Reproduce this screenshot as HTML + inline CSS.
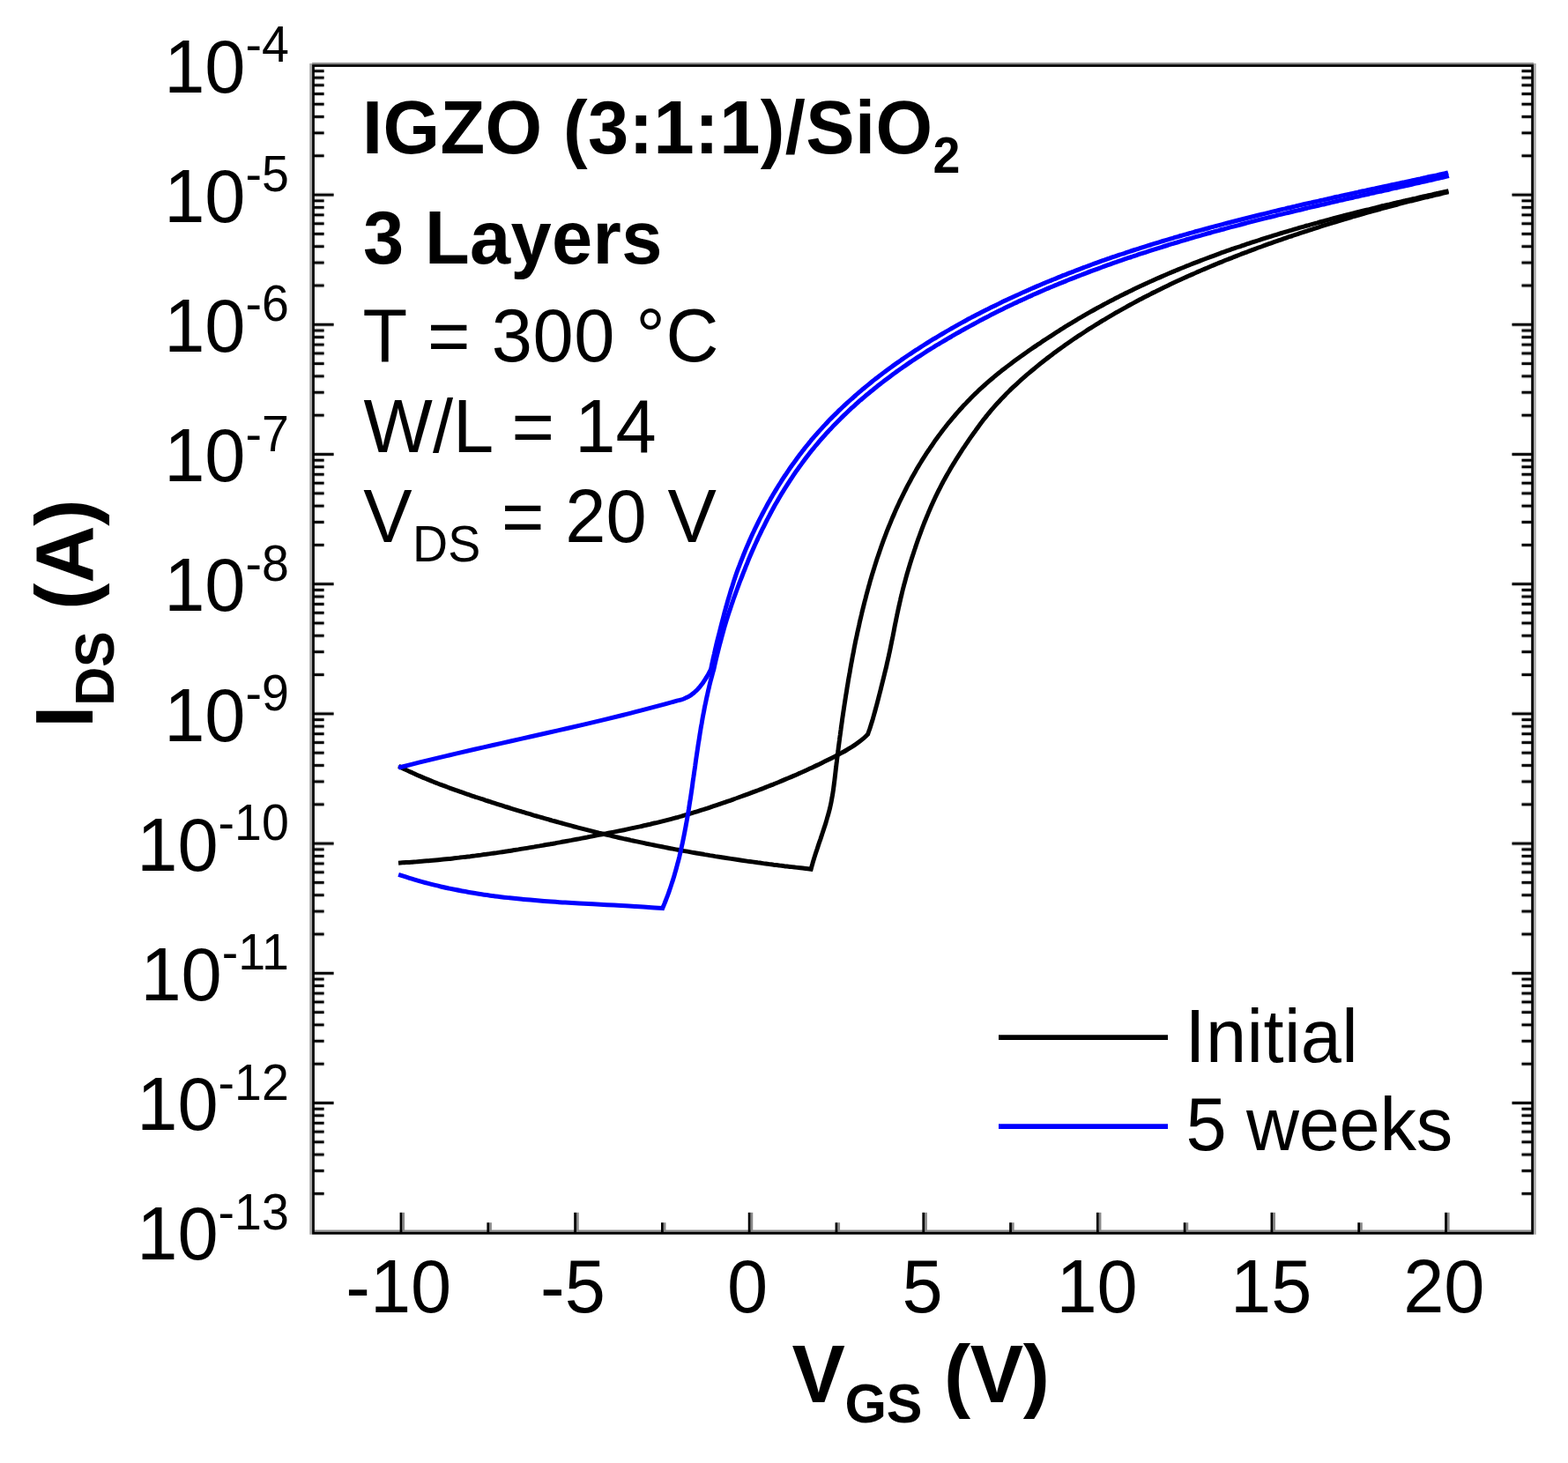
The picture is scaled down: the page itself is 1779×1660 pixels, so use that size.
<!DOCTYPE html>
<html lang="en"><head><meta charset="utf-8"><title>IGZO TFT transfer curves</title>
<style>html,body{margin:0;padding:0;background:#fff}body{width:1779px;height:1660px;overflow:hidden}svg{display:block}text{font-family:"Liberation Sans",sans-serif;fill:#000}.b{font-weight:bold}</style></head><body>
<svg width="1779" height="1660" viewBox="0 0 1779 1660">
<rect width="1779" height="1660" fill="#fff"/>
<g stroke="#a8a8a8" stroke-width="2.9" fill="none">
<line x1="352.7" y1="72.1" x2="352.7" y2="1400.7"/>
<line x1="1741.3" y1="72.1" x2="1741.3" y2="1400.7"/>
</g>
<g stroke="#8c8c8c" stroke-width="2.4" fill="none">
<line x1="354.1" y1="72.1" x2="1740.0" y2="72.1"/>
<line x1="356.9" y1="1396.7" x2="1737.2" y2="1396.7"/>
</g>
<g stroke="#cdcdcd" stroke-width="5" fill="none">
<line x1="356.9" y1="1354.39" x2="367.6" y2="1354.39"/>
<line x1="1737.2" y1="1354.39" x2="1726.5" y2="1354.39"/>
<line x1="356.9" y1="1328.47" x2="367.6" y2="1328.47"/>
<line x1="1737.2" y1="1328.47" x2="1726.5" y2="1328.47"/>
<line x1="356.9" y1="1310.08" x2="367.6" y2="1310.08"/>
<line x1="1737.2" y1="1310.08" x2="1726.5" y2="1310.08"/>
<line x1="356.9" y1="1295.81" x2="367.6" y2="1295.81"/>
<line x1="1737.2" y1="1295.81" x2="1726.5" y2="1295.81"/>
<line x1="356.9" y1="1284.16" x2="367.6" y2="1284.16"/>
<line x1="1737.2" y1="1284.16" x2="1726.5" y2="1284.16"/>
<line x1="356.9" y1="1274.30" x2="367.6" y2="1274.30"/>
<line x1="1737.2" y1="1274.30" x2="1726.5" y2="1274.30"/>
<line x1="356.9" y1="1265.77" x2="367.6" y2="1265.77"/>
<line x1="1737.2" y1="1265.77" x2="1726.5" y2="1265.77"/>
<line x1="356.9" y1="1258.24" x2="367.6" y2="1258.24"/>
<line x1="1737.2" y1="1258.24" x2="1726.5" y2="1258.24"/>
<line x1="356.9" y1="1251.50" x2="378.6" y2="1251.50"/>
<line x1="1737.2" y1="1251.50" x2="1715.5" y2="1251.50"/>
<line x1="356.9" y1="1207.19" x2="367.6" y2="1207.19"/>
<line x1="1737.2" y1="1207.19" x2="1726.5" y2="1207.19"/>
<line x1="356.9" y1="1181.27" x2="367.6" y2="1181.27"/>
<line x1="1737.2" y1="1181.27" x2="1726.5" y2="1181.27"/>
<line x1="356.9" y1="1162.88" x2="367.6" y2="1162.88"/>
<line x1="1737.2" y1="1162.88" x2="1726.5" y2="1162.88"/>
<line x1="356.9" y1="1148.61" x2="367.6" y2="1148.61"/>
<line x1="1737.2" y1="1148.61" x2="1726.5" y2="1148.61"/>
<line x1="356.9" y1="1136.96" x2="367.6" y2="1136.96"/>
<line x1="1737.2" y1="1136.96" x2="1726.5" y2="1136.96"/>
<line x1="356.9" y1="1127.10" x2="367.6" y2="1127.10"/>
<line x1="1737.2" y1="1127.10" x2="1726.5" y2="1127.10"/>
<line x1="356.9" y1="1118.57" x2="367.6" y2="1118.57"/>
<line x1="1737.2" y1="1118.57" x2="1726.5" y2="1118.57"/>
<line x1="356.9" y1="1111.04" x2="367.6" y2="1111.04"/>
<line x1="1737.2" y1="1111.04" x2="1726.5" y2="1111.04"/>
<line x1="356.9" y1="1104.30" x2="378.6" y2="1104.30"/>
<line x1="1737.2" y1="1104.30" x2="1715.5" y2="1104.30"/>
<line x1="356.9" y1="1059.99" x2="367.6" y2="1059.99"/>
<line x1="1737.2" y1="1059.99" x2="1726.5" y2="1059.99"/>
<line x1="356.9" y1="1034.07" x2="367.6" y2="1034.07"/>
<line x1="1737.2" y1="1034.07" x2="1726.5" y2="1034.07"/>
<line x1="356.9" y1="1015.68" x2="367.6" y2="1015.68"/>
<line x1="1737.2" y1="1015.68" x2="1726.5" y2="1015.68"/>
<line x1="356.9" y1="1001.41" x2="367.6" y2="1001.41"/>
<line x1="1737.2" y1="1001.41" x2="1726.5" y2="1001.41"/>
<line x1="356.9" y1="989.76" x2="367.6" y2="989.76"/>
<line x1="1737.2" y1="989.76" x2="1726.5" y2="989.76"/>
<line x1="356.9" y1="979.90" x2="367.6" y2="979.90"/>
<line x1="1737.2" y1="979.90" x2="1726.5" y2="979.90"/>
<line x1="356.9" y1="971.37" x2="367.6" y2="971.37"/>
<line x1="1737.2" y1="971.37" x2="1726.5" y2="971.37"/>
<line x1="356.9" y1="963.84" x2="367.6" y2="963.84"/>
<line x1="1737.2" y1="963.84" x2="1726.5" y2="963.84"/>
<line x1="356.9" y1="957.10" x2="378.6" y2="957.10"/>
<line x1="1737.2" y1="957.10" x2="1715.5" y2="957.10"/>
<line x1="356.9" y1="912.79" x2="367.6" y2="912.79"/>
<line x1="1737.2" y1="912.79" x2="1726.5" y2="912.79"/>
<line x1="356.9" y1="886.87" x2="367.6" y2="886.87"/>
<line x1="1737.2" y1="886.87" x2="1726.5" y2="886.87"/>
<line x1="356.9" y1="868.48" x2="367.6" y2="868.48"/>
<line x1="1737.2" y1="868.48" x2="1726.5" y2="868.48"/>
<line x1="356.9" y1="854.21" x2="367.6" y2="854.21"/>
<line x1="1737.2" y1="854.21" x2="1726.5" y2="854.21"/>
<line x1="356.9" y1="842.56" x2="367.6" y2="842.56"/>
<line x1="1737.2" y1="842.56" x2="1726.5" y2="842.56"/>
<line x1="356.9" y1="832.70" x2="367.6" y2="832.70"/>
<line x1="1737.2" y1="832.70" x2="1726.5" y2="832.70"/>
<line x1="356.9" y1="824.17" x2="367.6" y2="824.17"/>
<line x1="1737.2" y1="824.17" x2="1726.5" y2="824.17"/>
<line x1="356.9" y1="816.64" x2="367.6" y2="816.64"/>
<line x1="1737.2" y1="816.64" x2="1726.5" y2="816.64"/>
<line x1="356.9" y1="809.90" x2="378.6" y2="809.90"/>
<line x1="1737.2" y1="809.90" x2="1715.5" y2="809.90"/>
<line x1="356.9" y1="765.59" x2="367.6" y2="765.59"/>
<line x1="1737.2" y1="765.59" x2="1726.5" y2="765.59"/>
<line x1="356.9" y1="739.67" x2="367.6" y2="739.67"/>
<line x1="1737.2" y1="739.67" x2="1726.5" y2="739.67"/>
<line x1="356.9" y1="721.28" x2="367.6" y2="721.28"/>
<line x1="1737.2" y1="721.28" x2="1726.5" y2="721.28"/>
<line x1="356.9" y1="707.01" x2="367.6" y2="707.01"/>
<line x1="1737.2" y1="707.01" x2="1726.5" y2="707.01"/>
<line x1="356.9" y1="695.36" x2="367.6" y2="695.36"/>
<line x1="1737.2" y1="695.36" x2="1726.5" y2="695.36"/>
<line x1="356.9" y1="685.50" x2="367.6" y2="685.50"/>
<line x1="1737.2" y1="685.50" x2="1726.5" y2="685.50"/>
<line x1="356.9" y1="676.97" x2="367.6" y2="676.97"/>
<line x1="1737.2" y1="676.97" x2="1726.5" y2="676.97"/>
<line x1="356.9" y1="669.44" x2="367.6" y2="669.44"/>
<line x1="1737.2" y1="669.44" x2="1726.5" y2="669.44"/>
<line x1="356.9" y1="662.70" x2="378.6" y2="662.70"/>
<line x1="1737.2" y1="662.70" x2="1715.5" y2="662.70"/>
<line x1="356.9" y1="618.39" x2="367.6" y2="618.39"/>
<line x1="1737.2" y1="618.39" x2="1726.5" y2="618.39"/>
<line x1="356.9" y1="592.47" x2="367.6" y2="592.47"/>
<line x1="1737.2" y1="592.47" x2="1726.5" y2="592.47"/>
<line x1="356.9" y1="574.08" x2="367.6" y2="574.08"/>
<line x1="1737.2" y1="574.08" x2="1726.5" y2="574.08"/>
<line x1="356.9" y1="559.81" x2="367.6" y2="559.81"/>
<line x1="1737.2" y1="559.81" x2="1726.5" y2="559.81"/>
<line x1="356.9" y1="548.16" x2="367.6" y2="548.16"/>
<line x1="1737.2" y1="548.16" x2="1726.5" y2="548.16"/>
<line x1="356.9" y1="538.30" x2="367.6" y2="538.30"/>
<line x1="1737.2" y1="538.30" x2="1726.5" y2="538.30"/>
<line x1="356.9" y1="529.77" x2="367.6" y2="529.77"/>
<line x1="1737.2" y1="529.77" x2="1726.5" y2="529.77"/>
<line x1="356.9" y1="522.24" x2="367.6" y2="522.24"/>
<line x1="1737.2" y1="522.24" x2="1726.5" y2="522.24"/>
<line x1="356.9" y1="515.50" x2="378.6" y2="515.50"/>
<line x1="1737.2" y1="515.50" x2="1715.5" y2="515.50"/>
<line x1="356.9" y1="471.19" x2="367.6" y2="471.19"/>
<line x1="1737.2" y1="471.19" x2="1726.5" y2="471.19"/>
<line x1="356.9" y1="445.27" x2="367.6" y2="445.27"/>
<line x1="1737.2" y1="445.27" x2="1726.5" y2="445.27"/>
<line x1="356.9" y1="426.88" x2="367.6" y2="426.88"/>
<line x1="1737.2" y1="426.88" x2="1726.5" y2="426.88"/>
<line x1="356.9" y1="412.61" x2="367.6" y2="412.61"/>
<line x1="1737.2" y1="412.61" x2="1726.5" y2="412.61"/>
<line x1="356.9" y1="400.96" x2="367.6" y2="400.96"/>
<line x1="1737.2" y1="400.96" x2="1726.5" y2="400.96"/>
<line x1="356.9" y1="391.10" x2="367.6" y2="391.10"/>
<line x1="1737.2" y1="391.10" x2="1726.5" y2="391.10"/>
<line x1="356.9" y1="382.57" x2="367.6" y2="382.57"/>
<line x1="1737.2" y1="382.57" x2="1726.5" y2="382.57"/>
<line x1="356.9" y1="375.04" x2="367.6" y2="375.04"/>
<line x1="1737.2" y1="375.04" x2="1726.5" y2="375.04"/>
<line x1="356.9" y1="368.30" x2="378.6" y2="368.30"/>
<line x1="1737.2" y1="368.30" x2="1715.5" y2="368.30"/>
<line x1="356.9" y1="323.99" x2="367.6" y2="323.99"/>
<line x1="1737.2" y1="323.99" x2="1726.5" y2="323.99"/>
<line x1="356.9" y1="298.07" x2="367.6" y2="298.07"/>
<line x1="1737.2" y1="298.07" x2="1726.5" y2="298.07"/>
<line x1="356.9" y1="279.68" x2="367.6" y2="279.68"/>
<line x1="1737.2" y1="279.68" x2="1726.5" y2="279.68"/>
<line x1="356.9" y1="265.41" x2="367.6" y2="265.41"/>
<line x1="1737.2" y1="265.41" x2="1726.5" y2="265.41"/>
<line x1="356.9" y1="253.76" x2="367.6" y2="253.76"/>
<line x1="1737.2" y1="253.76" x2="1726.5" y2="253.76"/>
<line x1="356.9" y1="243.90" x2="367.6" y2="243.90"/>
<line x1="1737.2" y1="243.90" x2="1726.5" y2="243.90"/>
<line x1="356.9" y1="235.37" x2="367.6" y2="235.37"/>
<line x1="1737.2" y1="235.37" x2="1726.5" y2="235.37"/>
<line x1="356.9" y1="227.84" x2="367.6" y2="227.84"/>
<line x1="1737.2" y1="227.84" x2="1726.5" y2="227.84"/>
<line x1="356.9" y1="221.10" x2="378.6" y2="221.10"/>
<line x1="1737.2" y1="221.10" x2="1715.5" y2="221.10"/>
<line x1="356.9" y1="176.79" x2="367.6" y2="176.79"/>
<line x1="1737.2" y1="176.79" x2="1726.5" y2="176.79"/>
<line x1="356.9" y1="150.87" x2="367.6" y2="150.87"/>
<line x1="1737.2" y1="150.87" x2="1726.5" y2="150.87"/>
<line x1="356.9" y1="132.48" x2="367.6" y2="132.48"/>
<line x1="1737.2" y1="132.48" x2="1726.5" y2="132.48"/>
<line x1="356.9" y1="118.21" x2="367.6" y2="118.21"/>
<line x1="1737.2" y1="118.21" x2="1726.5" y2="118.21"/>
<line x1="356.9" y1="106.56" x2="367.6" y2="106.56"/>
<line x1="1737.2" y1="106.56" x2="1726.5" y2="106.56"/>
<line x1="356.9" y1="96.70" x2="367.6" y2="96.70"/>
<line x1="1737.2" y1="96.70" x2="1726.5" y2="96.70"/>
<line x1="356.9" y1="88.17" x2="367.6" y2="88.17"/>
<line x1="1737.2" y1="88.17" x2="1726.5" y2="88.17"/>
<line x1="356.9" y1="80.64" x2="367.6" y2="80.64"/>
<line x1="1737.2" y1="80.64" x2="1726.5" y2="80.64"/>
</g>
<g stroke="#8a8a8a" stroke-width="2.7" fill="none">
<line x1="457.74" y1="1397.9" x2="457.74" y2="1375.8"/>
<line x1="556.54" y1="1397.9" x2="556.54" y2="1387.2"/>
<line x1="655.33" y1="1397.9" x2="655.33" y2="1375.8"/>
<line x1="754.12" y1="1397.9" x2="754.12" y2="1387.2"/>
<line x1="852.91" y1="1397.9" x2="852.91" y2="1375.8"/>
<line x1="951.71" y1="1397.9" x2="951.71" y2="1387.2"/>
<line x1="1050.50" y1="1397.9" x2="1050.50" y2="1375.8"/>
<line x1="1149.29" y1="1397.9" x2="1149.29" y2="1387.2"/>
<line x1="1248.09" y1="1397.9" x2="1248.09" y2="1375.8"/>
<line x1="1346.88" y1="1397.9" x2="1346.88" y2="1387.2"/>
<line x1="1445.67" y1="1397.9" x2="1445.67" y2="1375.8"/>
<line x1="1544.46" y1="1397.9" x2="1544.46" y2="1387.2"/>
<line x1="1643.26" y1="1397.9" x2="1643.26" y2="1375.8"/>
</g>
<g stroke="#000" stroke-width="2.8" fill="none">
<line x1="355.5" y1="1354.39" x2="367.6" y2="1354.39"/>
<line x1="1738.6" y1="1354.39" x2="1726.5" y2="1354.39"/>
<line x1="355.5" y1="1328.47" x2="367.6" y2="1328.47"/>
<line x1="1738.6" y1="1328.47" x2="1726.5" y2="1328.47"/>
<line x1="355.5" y1="1310.08" x2="367.6" y2="1310.08"/>
<line x1="1738.6" y1="1310.08" x2="1726.5" y2="1310.08"/>
<line x1="355.5" y1="1295.81" x2="367.6" y2="1295.81"/>
<line x1="1738.6" y1="1295.81" x2="1726.5" y2="1295.81"/>
<line x1="355.5" y1="1284.16" x2="367.6" y2="1284.16"/>
<line x1="1738.6" y1="1284.16" x2="1726.5" y2="1284.16"/>
<line x1="355.5" y1="1274.30" x2="367.6" y2="1274.30"/>
<line x1="1738.6" y1="1274.30" x2="1726.5" y2="1274.30"/>
<line x1="355.5" y1="1265.77" x2="367.6" y2="1265.77"/>
<line x1="1738.6" y1="1265.77" x2="1726.5" y2="1265.77"/>
<line x1="355.5" y1="1258.24" x2="367.6" y2="1258.24"/>
<line x1="1738.6" y1="1258.24" x2="1726.5" y2="1258.24"/>
<line x1="355.5" y1="1251.50" x2="378.6" y2="1251.50"/>
<line x1="1738.6" y1="1251.50" x2="1715.5" y2="1251.50"/>
<line x1="355.5" y1="1207.19" x2="367.6" y2="1207.19"/>
<line x1="1738.6" y1="1207.19" x2="1726.5" y2="1207.19"/>
<line x1="355.5" y1="1181.27" x2="367.6" y2="1181.27"/>
<line x1="1738.6" y1="1181.27" x2="1726.5" y2="1181.27"/>
<line x1="355.5" y1="1162.88" x2="367.6" y2="1162.88"/>
<line x1="1738.6" y1="1162.88" x2="1726.5" y2="1162.88"/>
<line x1="355.5" y1="1148.61" x2="367.6" y2="1148.61"/>
<line x1="1738.6" y1="1148.61" x2="1726.5" y2="1148.61"/>
<line x1="355.5" y1="1136.96" x2="367.6" y2="1136.96"/>
<line x1="1738.6" y1="1136.96" x2="1726.5" y2="1136.96"/>
<line x1="355.5" y1="1127.10" x2="367.6" y2="1127.10"/>
<line x1="1738.6" y1="1127.10" x2="1726.5" y2="1127.10"/>
<line x1="355.5" y1="1118.57" x2="367.6" y2="1118.57"/>
<line x1="1738.6" y1="1118.57" x2="1726.5" y2="1118.57"/>
<line x1="355.5" y1="1111.04" x2="367.6" y2="1111.04"/>
<line x1="1738.6" y1="1111.04" x2="1726.5" y2="1111.04"/>
<line x1="355.5" y1="1104.30" x2="378.6" y2="1104.30"/>
<line x1="1738.6" y1="1104.30" x2="1715.5" y2="1104.30"/>
<line x1="355.5" y1="1059.99" x2="367.6" y2="1059.99"/>
<line x1="1738.6" y1="1059.99" x2="1726.5" y2="1059.99"/>
<line x1="355.5" y1="1034.07" x2="367.6" y2="1034.07"/>
<line x1="1738.6" y1="1034.07" x2="1726.5" y2="1034.07"/>
<line x1="355.5" y1="1015.68" x2="367.6" y2="1015.68"/>
<line x1="1738.6" y1="1015.68" x2="1726.5" y2="1015.68"/>
<line x1="355.5" y1="1001.41" x2="367.6" y2="1001.41"/>
<line x1="1738.6" y1="1001.41" x2="1726.5" y2="1001.41"/>
<line x1="355.5" y1="989.76" x2="367.6" y2="989.76"/>
<line x1="1738.6" y1="989.76" x2="1726.5" y2="989.76"/>
<line x1="355.5" y1="979.90" x2="367.6" y2="979.90"/>
<line x1="1738.6" y1="979.90" x2="1726.5" y2="979.90"/>
<line x1="355.5" y1="971.37" x2="367.6" y2="971.37"/>
<line x1="1738.6" y1="971.37" x2="1726.5" y2="971.37"/>
<line x1="355.5" y1="963.84" x2="367.6" y2="963.84"/>
<line x1="1738.6" y1="963.84" x2="1726.5" y2="963.84"/>
<line x1="355.5" y1="957.10" x2="378.6" y2="957.10"/>
<line x1="1738.6" y1="957.10" x2="1715.5" y2="957.10"/>
<line x1="355.5" y1="912.79" x2="367.6" y2="912.79"/>
<line x1="1738.6" y1="912.79" x2="1726.5" y2="912.79"/>
<line x1="355.5" y1="886.87" x2="367.6" y2="886.87"/>
<line x1="1738.6" y1="886.87" x2="1726.5" y2="886.87"/>
<line x1="355.5" y1="868.48" x2="367.6" y2="868.48"/>
<line x1="1738.6" y1="868.48" x2="1726.5" y2="868.48"/>
<line x1="355.5" y1="854.21" x2="367.6" y2="854.21"/>
<line x1="1738.6" y1="854.21" x2="1726.5" y2="854.21"/>
<line x1="355.5" y1="842.56" x2="367.6" y2="842.56"/>
<line x1="1738.6" y1="842.56" x2="1726.5" y2="842.56"/>
<line x1="355.5" y1="832.70" x2="367.6" y2="832.70"/>
<line x1="1738.6" y1="832.70" x2="1726.5" y2="832.70"/>
<line x1="355.5" y1="824.17" x2="367.6" y2="824.17"/>
<line x1="1738.6" y1="824.17" x2="1726.5" y2="824.17"/>
<line x1="355.5" y1="816.64" x2="367.6" y2="816.64"/>
<line x1="1738.6" y1="816.64" x2="1726.5" y2="816.64"/>
<line x1="355.5" y1="809.90" x2="378.6" y2="809.90"/>
<line x1="1738.6" y1="809.90" x2="1715.5" y2="809.90"/>
<line x1="355.5" y1="765.59" x2="367.6" y2="765.59"/>
<line x1="1738.6" y1="765.59" x2="1726.5" y2="765.59"/>
<line x1="355.5" y1="739.67" x2="367.6" y2="739.67"/>
<line x1="1738.6" y1="739.67" x2="1726.5" y2="739.67"/>
<line x1="355.5" y1="721.28" x2="367.6" y2="721.28"/>
<line x1="1738.6" y1="721.28" x2="1726.5" y2="721.28"/>
<line x1="355.5" y1="707.01" x2="367.6" y2="707.01"/>
<line x1="1738.6" y1="707.01" x2="1726.5" y2="707.01"/>
<line x1="355.5" y1="695.36" x2="367.6" y2="695.36"/>
<line x1="1738.6" y1="695.36" x2="1726.5" y2="695.36"/>
<line x1="355.5" y1="685.50" x2="367.6" y2="685.50"/>
<line x1="1738.6" y1="685.50" x2="1726.5" y2="685.50"/>
<line x1="355.5" y1="676.97" x2="367.6" y2="676.97"/>
<line x1="1738.6" y1="676.97" x2="1726.5" y2="676.97"/>
<line x1="355.5" y1="669.44" x2="367.6" y2="669.44"/>
<line x1="1738.6" y1="669.44" x2="1726.5" y2="669.44"/>
<line x1="355.5" y1="662.70" x2="378.6" y2="662.70"/>
<line x1="1738.6" y1="662.70" x2="1715.5" y2="662.70"/>
<line x1="355.5" y1="618.39" x2="367.6" y2="618.39"/>
<line x1="1738.6" y1="618.39" x2="1726.5" y2="618.39"/>
<line x1="355.5" y1="592.47" x2="367.6" y2="592.47"/>
<line x1="1738.6" y1="592.47" x2="1726.5" y2="592.47"/>
<line x1="355.5" y1="574.08" x2="367.6" y2="574.08"/>
<line x1="1738.6" y1="574.08" x2="1726.5" y2="574.08"/>
<line x1="355.5" y1="559.81" x2="367.6" y2="559.81"/>
<line x1="1738.6" y1="559.81" x2="1726.5" y2="559.81"/>
<line x1="355.5" y1="548.16" x2="367.6" y2="548.16"/>
<line x1="1738.6" y1="548.16" x2="1726.5" y2="548.16"/>
<line x1="355.5" y1="538.30" x2="367.6" y2="538.30"/>
<line x1="1738.6" y1="538.30" x2="1726.5" y2="538.30"/>
<line x1="355.5" y1="529.77" x2="367.6" y2="529.77"/>
<line x1="1738.6" y1="529.77" x2="1726.5" y2="529.77"/>
<line x1="355.5" y1="522.24" x2="367.6" y2="522.24"/>
<line x1="1738.6" y1="522.24" x2="1726.5" y2="522.24"/>
<line x1="355.5" y1="515.50" x2="378.6" y2="515.50"/>
<line x1="1738.6" y1="515.50" x2="1715.5" y2="515.50"/>
<line x1="355.5" y1="471.19" x2="367.6" y2="471.19"/>
<line x1="1738.6" y1="471.19" x2="1726.5" y2="471.19"/>
<line x1="355.5" y1="445.27" x2="367.6" y2="445.27"/>
<line x1="1738.6" y1="445.27" x2="1726.5" y2="445.27"/>
<line x1="355.5" y1="426.88" x2="367.6" y2="426.88"/>
<line x1="1738.6" y1="426.88" x2="1726.5" y2="426.88"/>
<line x1="355.5" y1="412.61" x2="367.6" y2="412.61"/>
<line x1="1738.6" y1="412.61" x2="1726.5" y2="412.61"/>
<line x1="355.5" y1="400.96" x2="367.6" y2="400.96"/>
<line x1="1738.6" y1="400.96" x2="1726.5" y2="400.96"/>
<line x1="355.5" y1="391.10" x2="367.6" y2="391.10"/>
<line x1="1738.6" y1="391.10" x2="1726.5" y2="391.10"/>
<line x1="355.5" y1="382.57" x2="367.6" y2="382.57"/>
<line x1="1738.6" y1="382.57" x2="1726.5" y2="382.57"/>
<line x1="355.5" y1="375.04" x2="367.6" y2="375.04"/>
<line x1="1738.6" y1="375.04" x2="1726.5" y2="375.04"/>
<line x1="355.5" y1="368.30" x2="378.6" y2="368.30"/>
<line x1="1738.6" y1="368.30" x2="1715.5" y2="368.30"/>
<line x1="355.5" y1="323.99" x2="367.6" y2="323.99"/>
<line x1="1738.6" y1="323.99" x2="1726.5" y2="323.99"/>
<line x1="355.5" y1="298.07" x2="367.6" y2="298.07"/>
<line x1="1738.6" y1="298.07" x2="1726.5" y2="298.07"/>
<line x1="355.5" y1="279.68" x2="367.6" y2="279.68"/>
<line x1="1738.6" y1="279.68" x2="1726.5" y2="279.68"/>
<line x1="355.5" y1="265.41" x2="367.6" y2="265.41"/>
<line x1="1738.6" y1="265.41" x2="1726.5" y2="265.41"/>
<line x1="355.5" y1="253.76" x2="367.6" y2="253.76"/>
<line x1="1738.6" y1="253.76" x2="1726.5" y2="253.76"/>
<line x1="355.5" y1="243.90" x2="367.6" y2="243.90"/>
<line x1="1738.6" y1="243.90" x2="1726.5" y2="243.90"/>
<line x1="355.5" y1="235.37" x2="367.6" y2="235.37"/>
<line x1="1738.6" y1="235.37" x2="1726.5" y2="235.37"/>
<line x1="355.5" y1="227.84" x2="367.6" y2="227.84"/>
<line x1="1738.6" y1="227.84" x2="1726.5" y2="227.84"/>
<line x1="355.5" y1="221.10" x2="378.6" y2="221.10"/>
<line x1="1738.6" y1="221.10" x2="1715.5" y2="221.10"/>
<line x1="355.5" y1="176.79" x2="367.6" y2="176.79"/>
<line x1="1738.6" y1="176.79" x2="1726.5" y2="176.79"/>
<line x1="355.5" y1="150.87" x2="367.6" y2="150.87"/>
<line x1="1738.6" y1="150.87" x2="1726.5" y2="150.87"/>
<line x1="355.5" y1="132.48" x2="367.6" y2="132.48"/>
<line x1="1738.6" y1="132.48" x2="1726.5" y2="132.48"/>
<line x1="355.5" y1="118.21" x2="367.6" y2="118.21"/>
<line x1="1738.6" y1="118.21" x2="1726.5" y2="118.21"/>
<line x1="355.5" y1="106.56" x2="367.6" y2="106.56"/>
<line x1="1738.6" y1="106.56" x2="1726.5" y2="106.56"/>
<line x1="355.5" y1="96.70" x2="367.6" y2="96.70"/>
<line x1="1738.6" y1="96.70" x2="1726.5" y2="96.70"/>
<line x1="355.5" y1="88.17" x2="367.6" y2="88.17"/>
<line x1="1738.6" y1="88.17" x2="1726.5" y2="88.17"/>
<line x1="355.5" y1="80.64" x2="367.6" y2="80.64"/>
<line x1="1738.6" y1="80.64" x2="1726.5" y2="80.64"/>
<line x1="454.99" y1="1399.3" x2="454.99" y2="1375.8"/>
<line x1="553.79" y1="1399.3" x2="553.79" y2="1387.2"/>
<line x1="652.58" y1="1399.3" x2="652.58" y2="1375.8"/>
<line x1="751.37" y1="1399.3" x2="751.37" y2="1387.2"/>
<line x1="850.16" y1="1399.3" x2="850.16" y2="1375.8"/>
<line x1="948.96" y1="1399.3" x2="948.96" y2="1387.2"/>
<line x1="1047.75" y1="1399.3" x2="1047.75" y2="1375.8"/>
<line x1="1146.54" y1="1399.3" x2="1146.54" y2="1387.2"/>
<line x1="1245.34" y1="1399.3" x2="1245.34" y2="1375.8"/>
<line x1="1344.13" y1="1399.3" x2="1344.13" y2="1387.2"/>
<line x1="1442.92" y1="1399.3" x2="1442.92" y2="1375.8"/>
<line x1="1541.71" y1="1399.3" x2="1541.71" y2="1387.2"/>
<line x1="1640.51" y1="1399.3" x2="1640.51" y2="1375.8"/>
<rect x="355.5" y="74.5" width="1383.1" height="1324.8"/>
</g>
<text transform="translate(327.8 1429.3) scale(1 1.030)" font-size="83.0" text-anchor="end">10<tspan font-size="55.5" dy="-33.6">-13</tspan></text>
<text transform="translate(327.8 1282.1) scale(1 1.030)" font-size="83.0" text-anchor="end">10<tspan font-size="55.5" dy="-33.6">-12</tspan></text>
<text transform="translate(327.8 1134.9) scale(1 1.030)" font-size="83.0" text-anchor="end">10<tspan font-size="55.5" dy="-33.6">-11</tspan></text>
<text transform="translate(327.8 987.7) scale(1 1.030)" font-size="83.0" text-anchor="end">10<tspan font-size="55.5" dy="-33.6">-10</tspan></text>
<text transform="translate(327.8 840.5) scale(1 1.030)" font-size="83.0" text-anchor="end">10<tspan font-size="55.5" dy="-33.6">-9</tspan></text>
<text transform="translate(327.8 693.3) scale(1 1.030)" font-size="83.0" text-anchor="end">10<tspan font-size="55.5" dy="-33.6">-8</tspan></text>
<text transform="translate(327.8 546.1) scale(1 1.030)" font-size="83.0" text-anchor="end">10<tspan font-size="55.5" dy="-33.6">-7</tspan></text>
<text transform="translate(327.8 398.9) scale(1 1.030)" font-size="83.0" text-anchor="end">10<tspan font-size="55.5" dy="-33.6">-6</tspan></text>
<text transform="translate(327.8 251.7) scale(1 1.030)" font-size="83.0" text-anchor="end">10<tspan font-size="55.5" dy="-33.6">-5</tspan></text>
<text transform="translate(327.8 104.5) scale(1 1.030)" font-size="83.0" text-anchor="end">10<tspan font-size="55.5" dy="-33.6">-4</tspan></text>
<text transform="translate(452.3 1488.9) scale(1 1.030)" font-size="83.0" text-anchor="middle">-10</text>
<text transform="translate(649.9 1488.9) scale(1 1.030)" font-size="83.0" text-anchor="middle">-5</text>
<text transform="translate(848.0 1488.9) scale(1 1.030)" font-size="83.0" text-anchor="middle">0</text>
<text transform="translate(1046.5 1488.9) scale(1 1.030)" font-size="83.0" text-anchor="middle">5</text>
<text transform="translate(1244.6 1488.9) scale(1 1.030)" font-size="83.0" text-anchor="middle">10</text>
<text transform="translate(1442.2 1488.9) scale(1 1.030)" font-size="83.0" text-anchor="middle">15</text>
<text transform="translate(1638.3 1488.9) scale(1 1.030)" font-size="83.0" text-anchor="middle">20</text>
<text transform="translate(898.5 1591.2) scale(1 1.030)" font-size="90.5" letter-spacing="-0.30" class="b">V<tspan font-size="61.0" dy="22.6">GS</tspan><tspan dy="-22.6"> (V)</tspan></text>
<text transform="translate(105.3 825.7) rotate(-90) scale(1 1.030)" font-size="90.5" letter-spacing="-0.25" class="b">I<tspan font-size="61.0" dy="23.2">DS</tspan><tspan dy="-23.2"> (A)</tspan></text>
<text transform="translate(411.0 173.5) scale(1 1.030)" font-size="83.0" letter-spacing="0.40" class="b">IGZO (3:1:1)/SiO<tspan font-size="55.5" dy="21.4">2</tspan></text>
<text transform="translate(412.0 298.8) scale(1 1.030)" font-size="83.0" letter-spacing="0.35" class="b">3 Layers</text>
<text transform="translate(411.5 410.3) scale(1 1.030)" font-size="83.0" letter-spacing="0.60">T = 300 °C</text>
<text transform="translate(412.5 512.5) scale(1 1.030)" font-size="83.0" letter-spacing="0.10">W/L = 14</text>
<text transform="translate(412.3 614.6) scale(1 1.030)" font-size="83.0" letter-spacing="0.30">V<tspan font-size="55.5" dy="21.4">DS</tspan><tspan dy="-21.4"> = 20 V</tspan></text>
<text transform="translate(1344.6 1204.9) scale(1 1.030)" font-size="83.0" letter-spacing="0.40">Initial</text>
<text transform="translate(1345.5 1305.3) scale(1 1.030)" font-size="83.0" letter-spacing="-0.30">5 weeks</text>
<line x1="1133" y1="1177.1" x2="1325" y2="1177.1" stroke="#000" stroke-width="5.6"/>
<line x1="1133" y1="1278.1" x2="1325" y2="1278.1" stroke="#0000ff" stroke-width="5.6"/>
<g fill="none" stroke-width="5.0" stroke-linejoin="miter" stroke-linecap="square">
<path stroke="#000" d="M454.5 870.5C455.4 871.0 458.2 872.3 460.1 873.2C461.9 874.1 463.8 875.0 465.7 875.9C467.5 876.7 469.4 877.6 471.3 878.4C473.2 879.3 475.0 880.1 476.9 880.9C478.8 881.7 480.7 882.5 482.5 883.3C484.4 884.1 486.3 884.9 488.2 885.6C490.1 886.4 491.9 887.1 493.8 887.9C495.7 888.6 497.6 889.4 499.5 890.1C501.4 890.8 503.3 891.5 505.2 892.2C507.1 892.9 508.9 893.6 510.8 894.3C512.7 895.0 514.6 895.7 516.5 896.4C518.4 897.0 520.3 897.7 522.2 898.4C524.2 899.1 526.1 899.7 528.0 900.4C529.9 901.0 531.8 901.7 533.7 902.3C535.6 903.0 537.5 903.6 539.4 904.3C541.3 904.9 543.3 905.5 545.2 906.2C547.1 906.8 549.0 907.4 550.9 908.1C552.8 908.7 554.8 909.3 556.7 909.9C558.6 910.6 560.6 911.2 562.5 911.8C564.4 912.4 566.3 913.0 568.3 913.6C570.2 914.2 572.1 914.9 574.1 915.5C576.0 916.1 577.9 916.7 579.9 917.3C581.8 917.9 583.7 918.5 585.7 919.1C587.6 919.7 589.5 920.3 591.5 920.8C593.4 921.4 595.4 922.0 597.3 922.6C599.3 923.2 601.2 923.8 603.2 924.3C605.1 924.9 607.1 925.5 609.0 926.0C611.0 926.6 612.9 927.2 614.9 927.7C616.8 928.3 618.8 928.9 620.7 929.4C622.7 930.0 624.6 930.5 626.6 931.1C628.5 931.6 630.5 932.2 632.5 932.7C634.4 933.3 636.4 933.8 638.4 934.3C640.3 934.9 642.3 935.4 644.2 935.9C646.2 936.5 648.2 937.0 650.1 937.5C652.1 938.0 654.1 938.6 656.0 939.1C658.0 939.6 660.0 940.1 662.0 940.6C663.9 941.1 665.9 941.6 667.9 942.1C669.8 942.6 671.8 943.1 673.8 943.6C675.8 944.1 677.8 944.6 679.7 945.1C681.7 945.5 683.7 946.0 685.7 946.5C687.6 947.0 689.6 947.5 691.6 947.9C693.6 948.4 695.6 948.8 697.5 949.3C699.5 949.8 701.5 950.2 703.5 950.7C705.5 951.1 707.5 951.6 709.5 952.0C711.4 952.5 713.4 952.9 715.4 953.4C717.4 953.8 719.4 954.2 721.4 954.6C723.4 955.1 725.4 955.5 727.4 955.9C729.4 956.4 731.4 956.8 733.4 957.2C735.3 957.6 737.3 958.0 739.3 958.4C741.3 958.8 743.3 959.2 745.3 959.6C747.3 960.0 749.3 960.4 751.3 960.8C753.3 961.2 755.3 961.6 757.3 962.0C759.3 962.4 761.3 962.8 763.3 963.1C765.3 963.5 767.3 963.9 769.3 964.2C771.3 964.6 773.3 965.0 775.3 965.4C777.3 965.7 779.3 966.1 781.3 966.4C783.3 966.8 785.3 967.2 787.3 967.5C789.3 967.9 791.3 968.2 793.4 968.5C795.4 968.9 797.4 969.2 799.4 969.6C801.4 969.9 803.4 970.2 805.4 970.6C807.4 970.9 809.4 971.2 811.4 971.6C813.4 971.9 815.4 972.2 817.4 972.5C819.4 972.8 821.5 973.2 823.5 973.5C825.5 973.8 827.5 974.1 829.5 974.4C831.5 974.7 833.5 975.0 835.5 975.3C837.5 975.6 839.6 975.9 841.6 976.2C843.6 976.5 845.6 976.8 847.6 977.1C849.6 977.4 851.6 977.6 853.6 977.9C855.7 978.2 857.7 978.5 859.7 978.8C861.7 979.0 863.7 979.3 865.7 979.6C867.7 979.9 869.7 980.1 871.8 980.4C873.8 980.7 875.8 980.9 877.8 981.2C879.8 981.4 881.8 981.7 883.8 981.9C885.9 982.2 887.9 982.4 889.9 982.7C891.9 982.9 893.9 983.2 895.9 983.4C897.9 983.7 900.0 983.9 902.0 984.1C904.0 984.4 906.0 984.6 908.0 984.8C910.0 985.1 912.0 985.3 914.1 985.5C916.1 985.8 919.1 986.1 920.1 986.2C920.4 985.2 921.1 982.4 921.7 980.5C922.2 978.6 922.8 976.7 923.4 974.8C923.9 972.9 924.6 971.0 925.2 969.1C925.8 967.1 926.4 965.2 927.1 963.3C927.7 961.4 928.4 959.5 929.0 957.5C929.6 955.6 930.3 953.7 931.0 951.8C931.6 949.9 932.3 947.9 932.9 946.0C933.6 944.1 934.2 942.1 934.8 940.2C935.5 938.3 936.1 936.3 936.7 934.4C937.3 932.4 937.9 930.5 938.4 928.5C939.0 926.6 939.6 924.7 940.1 922.7C940.6 920.8 941.1 918.8 941.6 916.9C942.0 914.9 942.5 913.0 942.9 911.0C943.3 909.0 943.6 907.1 944.0 905.1C944.3 903.2 944.7 901.2 945.0 899.2C945.3 897.3 945.6 895.3 945.8 893.4C946.1 891.4 946.3 889.4 946.6 887.5C946.8 885.5 947.1 883.5 947.3 881.6C947.5 879.6 947.8 877.6 948.0 875.6C948.2 873.7 948.4 871.7 948.7 869.7C948.9 867.7 949.1 865.8 949.4 863.8C949.6 861.8 949.9 859.8 950.1 857.9C950.4 855.9 950.6 853.9 950.9 851.9C951.1 849.9 951.3 847.9 951.6 846.0C951.9 844.0 952.1 842.0 952.4 840.0C952.6 838.0 952.9 836.0 953.2 834.0C953.4 832.1 953.7 830.1 954.0 828.1C954.2 826.1 954.5 824.1 954.8 822.1C955.1 820.1 955.4 818.1 955.6 816.2C955.9 814.2 956.2 812.2 956.5 810.2C956.8 808.2 957.1 806.2 957.4 804.2C957.7 802.2 958.0 800.2 958.3 798.2C958.6 796.2 958.9 794.3 959.2 792.3C959.5 790.3 959.8 788.3 960.2 786.3C960.5 784.3 960.8 782.3 961.1 780.3C961.5 778.3 961.8 776.3 962.1 774.3C962.4 772.3 962.8 770.3 963.1 768.4C963.5 766.4 963.8 764.4 964.2 762.4C964.5 760.4 964.9 758.4 965.2 756.4C965.6 754.4 965.9 752.4 966.3 750.4C966.7 748.5 967.0 746.5 967.4 744.5C967.8 742.5 968.2 740.5 968.6 738.5C968.9 736.5 969.3 734.5 969.7 732.6C970.1 730.6 970.5 728.6 970.9 726.6C971.3 724.6 971.8 722.6 972.2 720.7C972.6 718.7 973.0 716.7 973.5 714.7C973.9 712.8 974.3 710.8 974.8 708.8C975.2 706.8 975.6 704.9 976.1 702.9C976.6 700.9 977.0 699.0 977.5 697.0C977.9 695.0 978.4 693.1 978.9 691.1C979.4 689.2 979.9 687.2 980.4 685.2C980.8 683.3 981.3 681.3 981.9 679.4C982.4 677.4 982.9 675.5 983.4 673.5C983.9 671.6 984.4 669.6 985.0 667.7C985.5 665.8 986.0 663.8 986.6 661.9C987.1 660.0 987.7 658.0 988.3 656.1C988.8 654.2 989.4 652.2 990.0 650.3C990.6 648.4 991.2 646.5 991.8 644.5C992.3 642.6 993.0 640.7 993.6 638.8C994.2 636.9 994.8 635.0 995.4 633.1C996.1 631.2 996.7 629.3 997.4 627.4C998.0 625.5 998.7 623.6 999.3 621.7C1000.0 619.8 1000.7 617.9 1001.3 616.0C1002.0 614.1 1002.7 612.3 1003.4 610.4C1004.1 608.5 1004.8 606.6 1005.5 604.8C1006.3 602.9 1007.0 601.0 1007.7 599.2C1008.5 597.3 1009.2 595.5 1010.0 593.6C1010.8 591.8 1011.5 589.9 1012.3 588.1C1013.1 586.2 1013.9 584.4 1014.7 582.6C1015.5 580.7 1016.3 578.9 1017.1 577.1C1017.9 575.3 1018.8 573.5 1019.6 571.6C1020.4 569.8 1021.3 568.0 1022.2 566.2C1023.0 564.4 1023.9 562.6 1024.8 560.8C1025.7 559.0 1026.6 557.3 1027.5 555.5C1028.4 553.7 1029.3 551.9 1030.2 550.2C1031.2 548.4 1032.1 546.6 1033.1 544.9C1034.0 543.1 1035.0 541.3 1036.0 539.6C1036.9 537.9 1037.9 536.1 1038.9 534.4C1039.9 532.6 1040.9 530.9 1042.0 529.2C1043.0 527.5 1044.0 525.7 1045.1 524.0C1046.1 522.3 1047.2 520.6 1048.3 518.9C1049.3 517.2 1050.4 515.6 1051.5 513.9C1052.6 512.2 1053.7 510.5 1054.9 508.9C1056.0 507.2 1057.1 505.5 1058.3 503.9C1059.4 502.2 1060.6 500.6 1061.7 498.9C1062.9 497.3 1064.1 495.7 1065.3 494.1C1066.5 492.5 1067.7 490.8 1068.9 489.2C1070.1 487.6 1071.3 486.1 1072.6 484.5C1073.8 482.9 1075.1 481.3 1076.3 479.8C1077.6 478.2 1078.9 476.6 1080.2 475.1C1081.5 473.6 1082.8 472.0 1084.1 470.5C1085.4 469.0 1086.7 467.5 1088.1 466.0C1089.4 464.5 1090.8 463.0 1092.1 461.5C1093.5 460.0 1094.9 458.6 1096.3 457.1C1097.6 455.6 1099.0 454.2 1100.5 452.8C1101.9 451.3 1103.3 449.9 1104.7 448.5C1106.2 447.1 1107.6 445.7 1109.1 444.3C1110.5 442.9 1112.0 441.5 1113.5 440.2C1115.0 438.8 1116.5 437.5 1118.0 436.1C1119.5 434.8 1121.0 433.5 1122.5 432.2C1124.1 430.8 1125.6 429.5 1127.2 428.2C1128.7 426.9 1130.3 425.7 1131.8 424.4C1133.4 423.1 1135.0 421.9 1136.5 420.6C1138.1 419.4 1139.7 418.1 1141.3 416.9C1142.9 415.6 1144.5 414.4 1146.2 413.2C1147.8 412.0 1149.4 410.8 1151.0 409.6C1152.6 408.4 1154.3 407.2 1155.9 406.0C1157.5 404.8 1159.2 403.7 1160.8 402.5C1162.5 401.3 1164.1 400.1 1165.8 399.0C1167.4 397.8 1169.1 396.7 1170.8 395.5C1172.4 394.4 1174.1 393.3 1175.8 392.1C1177.5 391.0 1179.1 389.9 1180.8 388.8C1182.5 387.6 1184.1 386.5 1185.8 385.4C1187.5 384.3 1189.2 383.2 1190.9 382.1C1192.5 381.0 1194.2 379.9 1195.9 378.8C1197.6 377.7 1199.3 376.6 1201.0 375.6C1202.7 374.5 1204.4 373.4 1206.1 372.4C1207.8 371.3 1209.5 370.2 1211.2 369.2C1212.9 368.1 1214.6 367.1 1216.3 366.1C1218.0 365.0 1219.8 364.0 1221.5 363.0C1223.2 361.9 1224.9 360.9 1226.7 359.9C1228.4 358.9 1230.1 357.9 1231.8 356.9C1233.6 355.9 1235.3 354.9 1237.1 353.9C1238.8 352.9 1240.6 352.0 1242.3 351.0C1244.1 350.0 1245.8 349.1 1247.6 348.1C1249.3 347.2 1251.1 346.2 1252.8 345.3C1254.6 344.3 1256.4 343.4 1258.2 342.4C1259.9 341.5 1261.7 340.6 1263.5 339.7C1265.3 338.8 1267.0 337.8 1268.8 336.9C1270.6 336.0 1272.4 335.1 1274.2 334.2C1276.0 333.3 1277.8 332.4 1279.6 331.6C1281.4 330.7 1283.2 329.8 1285.0 328.9C1286.8 328.1 1288.6 327.2 1290.4 326.3C1292.2 325.5 1294.0 324.6 1295.8 323.8C1297.6 322.9 1299.5 322.1 1301.3 321.2C1303.1 320.4 1304.9 319.6 1306.8 318.8C1308.6 317.9 1310.4 317.1 1312.2 316.3C1314.1 315.5 1315.9 314.7 1317.8 313.9C1319.6 313.1 1321.4 312.3 1323.3 311.5C1325.1 310.7 1327.0 309.9 1328.8 309.1C1330.7 308.4 1332.5 307.6 1334.4 306.8C1336.2 306.0 1338.1 305.3 1339.9 304.5C1341.8 303.8 1343.7 303.0 1345.5 302.2C1347.4 301.5 1349.3 300.8 1351.1 300.0C1353.0 299.3 1354.9 298.5 1356.7 297.8C1358.6 297.1 1360.5 296.4 1362.4 295.6C1364.2 294.9 1366.1 294.2 1368.0 293.5C1369.9 292.8 1371.8 292.1 1373.7 291.4C1375.5 290.7 1377.4 290.0 1379.3 289.3C1381.2 288.6 1383.1 287.9 1385.0 287.2C1386.9 286.5 1388.8 285.9 1390.7 285.2C1392.6 284.5 1394.5 283.9 1396.4 283.2C1398.3 282.5 1400.2 281.9 1402.1 281.2C1404.0 280.6 1405.9 279.9 1407.8 279.3C1409.7 278.6 1411.6 278.0 1413.5 277.3C1415.4 276.7 1417.4 276.1 1419.3 275.4C1421.2 274.8 1423.1 274.2 1425.0 273.6C1426.9 272.9 1428.9 272.3 1430.8 271.7C1432.7 271.1 1434.6 270.5 1436.5 269.9C1438.5 269.3 1440.4 268.7 1442.3 268.1C1444.2 267.5 1446.2 266.9 1448.1 266.3C1450.0 265.7 1452.0 265.1 1453.9 264.5C1455.8 263.9 1457.8 263.4 1459.7 262.8C1461.6 262.2 1463.6 261.6 1465.5 261.1C1467.4 260.5 1469.4 259.9 1471.3 259.4C1473.2 258.8 1475.2 258.2 1477.1 257.7C1479.1 257.1 1481.0 256.6 1483.0 256.0C1484.9 255.5 1486.8 254.9 1488.8 254.4C1490.7 253.9 1492.7 253.3 1494.6 252.8C1496.6 252.2 1498.5 251.7 1500.5 251.2C1502.4 250.7 1504.4 250.1 1506.3 249.6C1508.2 249.1 1510.2 248.5 1512.2 248.0C1514.1 247.5 1516.0 247.0 1518.0 246.5C1520.0 246.0 1521.9 245.5 1523.8 245.0C1525.8 244.5 1527.8 244.0 1529.7 243.4C1531.7 242.9 1533.6 242.4 1535.6 241.9C1537.5 241.5 1539.5 241.0 1541.4 240.5C1543.4 240.0 1545.3 239.5 1547.3 239.0C1549.2 238.5 1551.2 238.0 1553.2 237.6C1555.1 237.1 1557.1 236.6 1559.0 236.1C1561.0 235.6 1562.9 235.2 1564.9 234.7C1566.8 234.2 1568.8 233.7 1570.7 233.3C1572.7 232.8 1574.7 232.3 1576.6 231.9C1578.6 231.4 1580.5 231.0 1582.5 230.5C1584.4 230.0 1586.4 229.6 1588.3 229.1C1590.3 228.7 1592.2 228.2 1594.2 227.8C1596.2 227.3 1598.1 226.8 1600.1 226.4C1602.0 226.0 1604.0 225.5 1605.9 225.1C1607.9 224.6 1609.8 224.2 1611.8 223.7C1613.7 223.3 1615.7 222.8 1617.6 222.4C1619.6 222.0 1621.5 221.5 1623.5 221.1C1625.4 220.7 1627.4 220.2 1629.3 219.8C1631.3 219.3 1633.2 218.9 1635.2 218.5C1637.1 218.1 1640.0 217.4 1641.0 217.2"/>
<path stroke="#000" d="M454.5 979.0C455.5 978.9 458.6 978.8 460.6 978.6C462.6 978.5 464.7 978.4 466.7 978.2C468.7 978.1 470.8 977.9 472.8 977.8C474.8 977.6 476.9 977.5 478.9 977.3C480.9 977.2 482.9 977.0 485.0 976.8C487.0 976.6 489.0 976.5 491.1 976.3C493.1 976.1 495.1 975.9 497.1 975.7C499.2 975.5 501.2 975.3 503.2 975.1C505.3 974.9 507.3 974.7 509.3 974.5C511.3 974.3 513.4 974.0 515.4 973.8C517.4 973.6 519.4 973.4 521.5 973.1C523.5 972.9 525.5 972.7 527.5 972.4C529.6 972.2 531.6 971.9 533.6 971.7C535.6 971.4 537.7 971.2 539.7 970.9C541.7 970.6 543.7 970.4 545.8 970.1C547.8 969.8 549.8 969.5 551.8 969.3C553.8 969.0 555.9 968.7 557.9 968.4C559.9 968.1 561.9 967.9 563.9 967.6C565.9 967.3 568.0 967.0 570.0 966.7C572.0 966.4 574.0 966.1 576.0 965.8C578.0 965.4 580.1 965.1 582.1 964.8C584.1 964.5 586.1 964.2 588.1 963.9C590.1 963.5 592.1 963.2 594.1 962.9C596.2 962.6 598.2 962.2 600.2 961.9C602.2 961.6 604.2 961.2 606.2 960.9C608.2 960.5 610.2 960.2 612.2 959.9C614.2 959.5 616.3 959.2 618.3 958.8C620.3 958.5 622.3 958.1 624.3 957.8C626.3 957.4 628.3 957.0 630.3 956.7C632.3 956.3 634.3 956.0 636.3 955.6C638.3 955.2 640.3 954.9 642.3 954.5C644.3 954.1 646.3 953.7 648.3 953.4C650.3 953.0 652.3 952.6 654.3 952.2C656.3 951.9 658.3 951.5 660.3 951.1C662.3 950.7 664.3 950.3 666.3 950.0C668.3 949.6 670.3 949.2 672.3 948.8C674.3 948.4 676.3 948.0 678.2 947.6C680.2 947.2 682.2 946.9 684.2 946.5C686.2 946.1 688.2 945.7 690.2 945.3C692.2 944.9 694.2 944.5 696.2 944.1C698.1 943.7 700.1 943.3 702.1 942.9C704.1 942.5 706.1 942.1 708.1 941.7C710.1 941.2 712.0 940.8 714.0 940.4C716.0 940.0 718.0 939.6 720.0 939.1C721.9 938.7 723.9 938.3 725.9 937.9C727.9 937.4 729.8 937.0 731.8 936.5C733.8 936.1 735.8 935.6 737.7 935.2C739.7 934.7 741.7 934.2 743.7 933.8C745.6 933.3 747.6 932.8 749.6 932.3C751.5 931.8 753.5 931.3 755.5 930.8C757.4 930.3 759.4 929.8 761.4 929.3C763.3 928.8 765.3 928.2 767.3 927.7C769.2 927.2 771.2 926.6 773.2 926.1C775.1 925.5 777.1 924.9 779.0 924.4C781.0 923.8 783.0 923.2 784.9 922.6C786.9 922.0 788.8 921.4 790.8 920.8C792.7 920.2 794.7 919.6 796.6 919.0C798.6 918.3 800.5 917.7 802.5 917.1C804.5 916.4 806.4 915.8 808.3 915.1C810.3 914.5 812.2 913.8 814.2 913.2C816.1 912.5 818.1 911.8 820.0 911.2C822.0 910.5 823.9 909.8 825.8 909.1C827.8 908.5 829.7 907.8 831.7 907.1C833.6 906.4 835.5 905.7 837.5 905.0C839.4 904.3 841.3 903.6 843.3 902.9C845.2 902.2 847.1 901.5 849.0 900.8C851.0 900.1 852.9 899.4 854.8 898.6C856.7 897.9 858.7 897.2 860.6 896.5C862.5 895.7 864.4 895.0 866.3 894.3C868.2 893.5 870.1 892.8 872.0 892.0C873.9 891.3 875.8 890.5 877.7 889.8C879.6 889.0 881.5 888.2 883.4 887.5C885.3 886.7 887.2 885.9 889.0 885.1C890.9 884.3 892.8 883.6 894.7 882.8C896.6 882.0 898.4 881.2 900.3 880.4C902.2 879.6 904.0 878.8 905.9 877.9C907.7 877.1 909.6 876.3 911.4 875.5C913.3 874.6 915.1 873.8 916.9 873.0C918.8 872.1 920.6 871.3 922.4 870.4C924.2 869.6 926.1 868.7 927.9 867.9C929.7 867.0 931.5 866.1 933.3 865.2C935.1 864.4 936.9 863.5 938.7 862.6C940.5 861.7 942.2 860.8 944.0 859.9C945.8 859.0 947.6 858.1 949.3 857.1C951.1 856.2 952.8 855.3 954.6 854.4C956.3 853.4 958.1 852.5 959.8 851.5C961.5 850.5 963.2 849.5 964.9 848.4C966.6 847.3 968.3 846.3 970.0 845.1C971.7 844.0 973.3 842.8 975.0 841.5C976.6 840.3 978.2 839.0 979.9 837.6C981.5 836.2 983.8 833.9 984.6 833.2C984.9 832.2 985.9 829.4 986.6 827.5C987.2 825.6 987.8 823.7 988.4 821.8C989.0 819.9 989.6 817.9 990.2 816.0C990.7 814.1 991.3 812.2 991.8 810.3C992.4 808.3 992.9 806.4 993.4 804.5C994.0 802.5 994.5 800.6 995.0 798.7C995.5 796.7 996.0 794.8 996.5 792.9C997.0 790.9 997.5 789.0 998.0 787.0C998.5 785.1 999.0 783.1 999.5 781.2C999.9 779.2 1000.4 777.3 1000.9 775.3C1001.4 773.4 1001.9 771.4 1002.4 769.4C1002.9 767.5 1003.4 765.5 1003.8 763.6C1004.3 761.6 1004.8 759.6 1005.3 757.7C1005.7 755.7 1006.2 753.7 1006.6 751.8C1007.1 749.8 1007.5 747.8 1008.0 745.9C1008.4 743.9 1008.8 741.9 1009.3 739.9C1009.7 738.0 1010.1 736.0 1010.5 734.0C1010.9 732.1 1011.3 730.1 1011.7 728.1C1012.1 726.1 1012.5 724.2 1012.9 722.2C1013.3 720.2 1013.7 718.2 1014.1 716.3C1014.5 714.3 1014.8 712.3 1015.2 710.3C1015.6 708.4 1016.0 706.4 1016.4 704.4C1016.8 702.5 1017.2 700.5 1017.6 698.5C1018.0 696.5 1018.5 694.6 1018.9 692.6C1019.3 690.6 1019.7 688.7 1020.2 686.7C1020.6 684.7 1021.0 682.8 1021.5 680.8C1021.9 678.8 1022.4 676.9 1022.9 674.9C1023.3 673.0 1023.8 671.0 1024.3 669.0C1024.8 667.1 1025.3 665.1 1025.8 663.2C1026.4 661.2 1026.9 659.3 1027.4 657.3C1027.9 655.4 1028.5 653.4 1029.0 651.5C1029.6 649.5 1030.2 647.6 1030.8 645.6C1031.3 643.7 1031.9 641.8 1032.5 639.8C1033.1 637.9 1033.7 636.0 1034.3 634.0C1034.9 632.1 1035.6 630.2 1036.2 628.3C1036.8 626.4 1037.4 624.4 1038.1 622.5C1038.7 620.6 1039.4 618.7 1040.0 616.8C1040.7 614.9 1041.4 613.0 1042.0 611.1C1042.7 609.2 1043.4 607.3 1044.1 605.4C1044.8 603.5 1045.5 601.6 1046.2 599.7C1046.9 597.8 1047.6 596.0 1048.3 594.1C1049.1 592.2 1049.8 590.4 1050.6 588.5C1051.3 586.6 1052.1 584.8 1052.9 582.9C1053.6 581.1 1054.4 579.2 1055.2 577.4C1056.0 575.5 1056.8 573.7 1057.7 571.9C1058.5 570.0 1059.3 568.2 1060.2 566.4C1061.0 564.5 1061.9 562.7 1062.8 560.9C1063.7 559.1 1064.5 557.3 1065.5 555.5C1066.4 553.7 1067.3 551.9 1068.2 550.1C1069.2 548.3 1070.1 546.5 1071.1 544.8C1072.1 543.0 1073.1 541.2 1074.0 539.5C1075.0 537.7 1076.0 536.0 1077.1 534.2C1078.1 532.5 1079.1 530.7 1080.1 529.0C1081.2 527.3 1082.2 525.5 1083.3 523.8C1084.3 522.1 1085.4 520.4 1086.5 518.7C1087.5 517.0 1088.6 515.3 1089.7 513.6C1090.8 511.9 1091.9 510.2 1093.0 508.5C1094.1 506.9 1095.2 505.2 1096.3 503.6C1097.5 501.9 1098.6 500.2 1099.7 498.6C1100.8 497.0 1102.0 495.3 1103.1 493.7C1104.3 492.1 1105.4 490.5 1106.6 488.9C1107.7 487.3 1108.9 485.6 1110.1 484.1C1111.2 482.5 1112.4 480.9 1113.6 479.3C1114.8 477.8 1116.0 476.2 1117.2 474.6C1118.5 473.1 1119.7 471.5 1120.9 470.0C1122.2 468.5 1123.5 466.9 1124.7 465.4C1126.0 463.9 1127.3 462.4 1128.6 460.9C1129.9 459.4 1131.3 457.9 1132.6 456.5C1134.0 455.0 1135.3 453.5 1136.7 452.1C1138.1 450.6 1139.5 449.2 1140.9 447.7C1142.3 446.3 1143.8 444.9 1145.2 443.4C1146.6 442.0 1148.1 440.6 1149.6 439.2C1151.1 437.8 1152.6 436.4 1154.1 435.1C1155.6 433.7 1157.1 432.3 1158.6 430.9C1160.1 429.6 1161.7 428.2 1163.2 426.9C1164.7 425.5 1166.3 424.2 1167.9 422.9C1169.4 421.6 1171.0 420.3 1172.6 419.0C1174.1 417.7 1175.7 416.4 1177.3 415.1C1178.9 413.8 1180.5 412.5 1182.1 411.3C1183.7 410.0 1185.3 408.7 1186.9 407.5C1188.5 406.2 1190.2 405.0 1191.8 403.8C1193.4 402.6 1195.0 401.3 1196.6 400.1C1198.3 398.9 1199.9 397.7 1201.5 396.5C1203.2 395.3 1204.8 394.1 1206.5 393.0C1208.1 391.8 1209.8 390.6 1211.4 389.5C1213.1 388.3 1214.7 387.2 1216.4 386.0C1218.1 384.9 1219.7 383.7 1221.4 382.6C1223.1 381.5 1224.8 380.4 1226.5 379.3C1228.1 378.2 1229.8 377.1 1231.5 376.0C1233.2 374.9 1234.9 373.8 1236.6 372.7C1238.3 371.6 1240.0 370.6 1241.7 369.5C1243.4 368.4 1245.1 367.4 1246.8 366.3C1248.5 365.3 1250.3 364.2 1252.0 363.2C1253.7 362.2 1255.4 361.1 1257.2 360.1C1258.9 359.1 1260.6 358.1 1262.3 357.1C1264.1 356.1 1265.8 355.0 1267.6 354.1C1269.3 353.1 1271.0 352.1 1272.8 351.1C1274.5 350.1 1276.3 349.1 1278.1 348.2C1279.8 347.2 1281.6 346.2 1283.3 345.3C1285.1 344.3 1286.9 343.4 1288.6 342.4C1290.4 341.5 1292.2 340.5 1294.0 339.6C1295.7 338.7 1297.5 337.7 1299.3 336.8C1301.1 335.9 1302.9 335.0 1304.6 334.1C1306.4 333.1 1308.2 332.2 1310.0 331.4C1311.8 330.5 1313.6 329.6 1315.4 328.7C1317.2 327.8 1319.0 326.9 1320.8 326.0C1322.6 325.2 1324.4 324.3 1326.2 323.4C1328.1 322.6 1329.9 321.7 1331.7 320.8C1333.5 320.0 1335.3 319.1 1337.1 318.3C1339.0 317.4 1340.8 316.6 1342.6 315.8C1344.4 314.9 1346.3 314.1 1348.1 313.3C1349.9 312.5 1351.8 311.7 1353.6 310.9C1355.4 310.0 1357.3 309.2 1359.1 308.4C1361.0 307.6 1362.8 306.8 1364.7 306.0C1366.5 305.2 1368.4 304.5 1370.2 303.7C1372.1 302.9 1373.9 302.1 1375.8 301.3C1377.6 300.6 1379.5 299.8 1381.4 299.0C1383.2 298.3 1385.1 297.5 1387.0 296.8C1388.8 296.0 1390.7 295.2 1392.5 294.5C1394.4 293.8 1396.3 293.0 1398.2 292.3C1400.0 291.5 1401.9 290.8 1403.8 290.1C1405.7 289.4 1407.6 288.6 1409.4 287.9C1411.3 287.2 1413.2 286.5 1415.1 285.8C1417.0 285.0 1418.9 284.3 1420.8 283.6C1422.7 282.9 1424.5 282.2 1426.4 281.5C1428.3 280.8 1430.2 280.2 1432.1 279.5C1434.0 278.8 1435.9 278.1 1437.8 277.4C1439.7 276.7 1441.6 276.1 1443.5 275.4C1445.4 274.7 1447.3 274.0 1449.2 273.4C1451.1 272.7 1453.1 272.1 1455.0 271.4C1456.9 270.7 1458.8 270.1 1460.7 269.4C1462.6 268.8 1464.5 268.1 1466.4 267.5C1468.4 266.8 1470.3 266.2 1472.2 265.6C1474.1 264.9 1476.0 264.3 1478.0 263.7C1479.9 263.0 1481.8 262.4 1483.7 261.8C1485.6 261.2 1487.6 260.5 1489.5 259.9C1491.4 259.3 1493.3 258.7 1495.3 258.1C1497.2 257.5 1499.1 256.9 1501.0 256.2C1503.0 255.6 1504.9 255.0 1506.8 254.4C1508.8 253.8 1510.7 253.3 1512.6 252.7C1514.6 252.1 1516.5 251.5 1518.5 250.9C1520.4 250.3 1522.3 249.7 1524.3 249.1C1526.2 248.6 1528.1 248.0 1530.1 247.4C1532.0 246.8 1534.0 246.3 1535.9 245.7C1537.8 245.1 1539.8 244.6 1541.7 244.0C1543.7 243.5 1545.6 242.9 1547.5 242.3C1549.5 241.8 1551.4 241.3 1553.4 240.7C1555.3 240.2 1557.3 239.6 1559.2 239.1C1561.1 238.5 1563.1 238.0 1565.0 237.5C1567.0 236.9 1568.9 236.4 1570.9 235.9C1572.8 235.4 1574.8 234.8 1576.7 234.3C1578.7 233.8 1580.6 233.3 1582.6 232.8C1584.5 232.3 1586.5 231.7 1588.4 231.2C1590.3 230.7 1592.3 230.2 1594.2 229.7C1596.2 229.2 1598.1 228.7 1600.1 228.2C1602.0 227.7 1604.0 227.3 1605.9 226.8C1607.9 226.3 1609.8 225.8 1611.8 225.3C1613.7 224.9 1615.7 224.4 1617.6 223.9C1619.6 223.4 1621.5 223.0 1623.5 222.5C1625.4 222.0 1627.4 221.6 1629.3 221.1C1631.3 220.7 1633.2 220.2 1635.2 219.7C1637.1 219.3 1640.0 218.6 1641.0 218.4"/>
<path stroke="#0000ff" d="M454.5 993.1C457.0 993.9 464.5 996.4 469.6 997.9C474.7 999.4 479.7 1000.9 484.8 1002.2C489.9 1003.5 495.0 1004.8 500.1 1006.0C505.3 1007.2 510.4 1008.3 515.6 1009.3C520.7 1010.3 525.9 1011.3 531.1 1012.2C536.2 1013.1 541.4 1013.9 546.6 1014.7C551.8 1015.5 557.1 1016.2 562.3 1016.9C567.5 1017.6 572.8 1018.2 578.0 1018.8C583.2 1019.3 588.5 1019.9 593.8 1020.4C599.0 1020.8 604.3 1021.3 609.5 1021.7C614.8 1022.2 620.1 1022.6 625.4 1022.9C630.6 1023.3 635.9 1023.7 641.2 1024.0C646.5 1024.3 651.7 1024.6 657.0 1024.9C662.3 1025.2 667.6 1025.5 672.9 1025.8C678.1 1026.1 683.4 1026.4 688.7 1026.7C694.0 1027.0 699.2 1027.2 704.5 1027.5C709.8 1027.8 715.0 1028.1 720.3 1028.5C725.5 1028.8 730.8 1029.1 736.0 1029.5C741.2 1029.8 749.1 1030.4 751.7 1030.6C752.1 1029.6 753.3 1026.8 754.1 1024.9C754.8 1022.9 755.6 1021.0 756.3 1019.1C757.1 1017.2 757.8 1015.2 758.5 1013.3C759.2 1011.4 759.8 1009.4 760.5 1007.5C761.2 1005.5 761.8 1003.6 762.4 1001.6C763.1 999.7 763.7 997.7 764.3 995.8C764.9 993.8 765.5 991.9 766.0 989.9C766.6 987.9 767.1 986.0 767.7 984.0C768.2 982.0 768.7 980.0 769.3 978.1C769.8 976.1 770.3 974.1 770.8 972.1C771.2 970.1 771.7 968.1 772.2 966.1C772.6 964.2 773.1 962.2 773.5 960.2C774.0 958.2 774.4 956.2 774.8 954.2C775.2 952.2 775.6 950.2 776.0 948.2C776.4 946.2 776.8 944.1 777.2 942.1C777.6 940.1 778.0 938.1 778.3 936.1C778.7 934.1 779.1 932.1 779.4 930.0C779.8 928.0 780.1 926.0 780.5 924.0C780.8 922.0 781.1 919.9 781.5 917.9C781.8 915.9 782.1 913.9 782.4 911.8C782.7 909.8 783.1 907.8 783.4 905.8C783.7 903.7 784.0 901.7 784.3 899.7C784.6 897.6 784.9 895.6 785.2 893.6C785.5 891.5 785.8 889.5 786.0 887.5C786.3 885.4 786.6 883.4 786.9 881.4C787.2 879.3 787.5 877.3 787.8 875.2C788.1 873.2 788.4 871.2 788.7 869.1C788.9 867.1 789.2 865.1 789.5 863.0C789.8 861.0 790.1 859.0 790.4 856.9C790.7 854.9 791.0 852.9 791.3 850.8C791.6 848.8 791.9 846.8 792.2 844.7C792.5 842.7 792.9 840.7 793.2 838.6C793.5 836.6 793.8 834.6 794.1 832.6C794.5 830.5 794.8 828.5 795.1 826.5C795.5 824.4 795.8 822.4 796.2 820.4C796.5 818.4 796.9 816.4 797.2 814.3C797.6 812.3 798.0 810.3 798.4 808.3C798.8 806.3 799.1 804.3 799.5 802.2C799.9 800.2 800.4 798.2 800.8 796.2C801.2 794.2 801.6 792.2 802.1 790.2C802.5 788.2 803.0 786.2 803.4 784.2C803.9 782.2 804.4 780.2 804.8 778.2C805.3 776.2 805.8 774.2 806.3 772.2C806.8 770.2 807.4 768.3 807.9 766.3C808.4 764.3 809.3 761.3 809.6 760.4C809.8 759.4 810.5 756.4 810.9 754.4C811.4 752.4 811.8 750.5 812.3 748.5C812.8 746.5 813.3 744.5 813.7 742.6C814.2 740.6 814.7 738.6 815.2 736.6C815.7 734.7 816.2 732.7 816.7 730.7C817.2 728.8 817.8 726.8 818.3 724.8C818.8 722.9 819.3 720.9 819.9 719.0C820.4 717.0 821.0 715.0 821.5 713.1C822.1 711.1 822.6 709.2 823.2 707.2C823.8 705.3 824.4 703.3 825.0 701.4C825.6 699.5 826.3 697.5 826.9 695.6C827.5 693.7 828.1 691.8 828.8 689.8C829.4 687.9 830.1 686.0 830.7 684.1C831.4 682.1 832.1 680.2 832.7 678.3C833.4 676.4 834.1 674.5 834.8 672.6C835.5 670.7 836.2 668.8 836.9 666.9C837.6 665.0 838.3 663.1 839.0 661.2C839.7 659.3 840.5 657.5 841.2 655.6C841.9 653.7 842.7 651.8 843.4 649.9C844.2 648.0 844.9 646.2 845.6 644.3C846.3 642.4 847.1 640.5 847.9 638.7C848.6 636.8 849.4 634.9 850.1 633.1C850.9 631.2 851.7 629.4 852.5 627.5C853.3 625.7 854.1 623.8 854.9 622.0C855.7 620.2 856.5 618.3 857.4 616.5C858.2 614.7 859.1 612.9 859.9 611.0C860.8 609.2 861.6 607.4 862.5 605.6C863.4 603.8 864.2 602.0 865.1 600.2C866.0 598.4 866.9 596.6 867.8 594.8C868.7 593.0 869.6 591.2 870.5 589.5C871.4 587.7 872.3 585.9 873.3 584.2C874.2 582.4 875.2 580.6 876.1 578.9C877.1 577.1 878.0 575.4 879.0 573.6C880.0 571.9 881.0 570.2 882.0 568.5C883.0 566.7 884.0 565.0 885.0 563.3C886.0 561.6 887.0 559.9 888.1 558.2C889.1 556.5 890.1 554.8 891.2 553.1C892.3 551.4 893.3 549.8 894.4 548.1C895.5 546.4 896.6 544.8 897.7 543.1C898.8 541.5 899.9 539.8 901.0 538.2C902.1 536.5 903.2 534.9 904.4 533.3C905.5 531.7 906.6 530.1 907.8 528.5C909.0 526.9 910.1 525.3 911.3 523.7C912.5 522.1 913.7 520.5 914.9 518.9C916.1 517.4 917.3 515.8 918.5 514.2C919.8 512.7 921.0 511.1 922.2 509.6C923.5 508.1 924.8 506.5 926.0 505.0C927.3 503.5 928.6 502.0 929.9 500.5C931.1 499.0 932.4 497.5 933.8 496.0C935.1 494.6 936.4 493.1 937.7 491.6C939.1 490.2 940.4 488.7 941.8 487.3C943.1 485.8 944.5 484.4 945.9 482.9C947.2 481.5 948.6 480.1 950.0 478.7C951.4 477.3 952.8 475.9 954.2 474.5C955.6 473.1 957.1 471.7 958.5 470.3C959.9 469.0 961.4 467.6 962.8 466.2C964.3 464.9 965.7 463.5 967.2 462.2C968.7 460.8 970.2 459.5 971.6 458.2C973.1 456.9 974.6 455.5 976.1 454.2C977.6 452.9 979.2 451.6 980.7 450.3C982.2 449.0 983.7 447.7 985.3 446.5C986.8 445.2 988.3 443.9 989.9 442.7C991.5 441.4 993.0 440.1 994.6 438.9C996.2 437.7 997.7 436.4 999.3 435.2C1000.9 434.0 1002.5 432.7 1004.1 431.5C1005.7 430.3 1007.3 429.1 1008.9 427.9C1010.5 426.7 1012.1 425.5 1013.7 424.3C1015.4 423.1 1017.0 422.0 1018.6 420.8C1020.3 419.6 1021.9 418.5 1023.6 417.3C1025.2 416.1 1026.9 415.0 1028.5 413.9C1030.2 412.7 1031.8 411.6 1033.5 410.4C1035.2 409.3 1036.8 408.2 1038.5 407.1C1040.2 406.0 1041.9 404.9 1043.6 403.8C1045.3 402.7 1047.0 401.6 1048.7 400.5C1050.4 399.4 1052.1 398.3 1053.8 397.2C1055.5 396.2 1057.2 395.1 1058.9 394.1C1060.6 393.0 1062.3 391.9 1064.1 390.9C1065.8 389.9 1067.5 388.8 1069.2 387.8C1071.0 386.7 1072.7 385.7 1074.5 384.7C1076.2 383.7 1077.9 382.7 1079.7 381.7C1081.4 380.7 1083.2 379.6 1084.9 378.6C1086.7 377.7 1088.4 376.7 1090.2 375.7C1091.9 374.7 1093.7 373.7 1095.4 372.8C1097.2 371.8 1099.0 370.8 1100.7 369.9C1102.5 368.9 1104.3 367.9 1106.0 367.0C1107.8 366.0 1109.6 365.1 1111.3 364.1C1113.1 363.2 1114.9 362.3 1116.7 361.3C1118.5 360.4 1120.3 359.5 1122.0 358.6C1123.8 357.6 1125.6 356.7 1127.4 355.8C1129.2 354.9 1131.0 354.0 1132.8 353.1C1134.6 352.2 1136.4 351.3 1138.2 350.4C1140.0 349.5 1141.8 348.7 1143.6 347.8C1145.4 346.9 1147.2 346.0 1149.0 345.2C1150.9 344.3 1152.7 343.4 1154.5 342.6C1156.3 341.7 1158.1 340.9 1160.0 340.1C1161.8 339.2 1163.6 338.4 1165.5 337.5C1167.3 336.7 1169.1 335.9 1171.0 335.1C1172.8 334.3 1174.6 333.4 1176.5 332.6C1178.3 331.8 1180.2 331.0 1182.0 330.2C1183.8 329.4 1185.7 328.6 1187.5 327.8C1189.4 327.0 1191.3 326.3 1193.1 325.5C1195.0 324.7 1196.8 323.9 1198.7 323.2C1200.5 322.4 1202.4 321.6 1204.3 320.9C1206.1 320.1 1208.0 319.4 1209.9 318.6C1211.7 317.9 1213.6 317.1 1215.5 316.4C1217.3 315.6 1219.2 314.9 1221.1 314.1C1223.0 313.4 1224.8 312.7 1226.7 312.0C1228.6 311.2 1230.5 310.5 1232.4 309.8C1234.3 309.1 1236.2 308.4 1238.0 307.7C1239.9 307.0 1241.8 306.3 1243.7 305.6C1245.6 304.9 1247.5 304.2 1249.4 303.5C1251.3 302.8 1253.2 302.1 1255.1 301.4C1257.0 300.7 1258.9 300.1 1260.8 299.4C1262.7 298.7 1264.6 298.0 1266.5 297.4C1268.4 296.7 1270.3 296.0 1272.2 295.4C1274.1 294.7 1276.0 294.1 1278.0 293.4C1279.9 292.8 1281.8 292.1 1283.7 291.5C1285.6 290.8 1287.5 290.2 1289.5 289.6C1291.4 288.9 1293.3 288.3 1295.2 287.7C1297.1 287.1 1299.0 286.4 1301.0 285.8C1302.9 285.2 1304.8 284.6 1306.8 283.9C1308.7 283.3 1310.6 282.7 1312.5 282.1C1314.5 281.5 1316.4 280.9 1318.3 280.3C1320.3 279.7 1322.2 279.1 1324.1 278.5C1326.1 277.9 1328.0 277.3 1329.9 276.7C1331.9 276.1 1333.8 275.5 1335.8 275.0C1337.7 274.4 1339.6 273.8 1341.6 273.2C1343.5 272.6 1345.5 272.1 1347.4 271.5C1349.3 270.9 1351.3 270.4 1353.2 269.8C1355.2 269.2 1357.1 268.7 1359.1 268.1C1361.0 267.6 1363.0 267.0 1364.9 266.4C1366.9 265.9 1368.8 265.3 1370.8 264.8C1372.7 264.3 1374.7 263.7 1376.6 263.2C1378.6 262.6 1380.5 262.1 1382.5 261.6C1384.5 261.0 1386.4 260.5 1388.4 260.0C1390.3 259.4 1392.3 258.9 1394.2 258.4C1396.2 257.9 1398.2 257.3 1400.1 256.8C1402.1 256.3 1404.0 255.8 1406.0 255.3C1408.0 254.8 1409.9 254.2 1411.9 253.7C1413.9 253.2 1415.8 252.7 1417.8 252.2C1419.7 251.7 1421.7 251.2 1423.7 250.7C1425.6 250.2 1427.6 249.7 1429.6 249.2C1431.5 248.7 1433.5 248.2 1435.5 247.7C1437.4 247.2 1439.4 246.8 1441.4 246.3C1443.3 245.8 1445.3 245.3 1447.3 244.8C1449.2 244.3 1451.2 243.8 1453.2 243.4C1455.1 242.9 1457.1 242.4 1459.1 241.9C1461.1 241.5 1463.0 241.0 1465.0 240.5C1467.0 240.0 1468.9 239.6 1470.9 239.1C1472.9 238.6 1474.8 238.1 1476.8 237.7C1478.8 237.2 1480.8 236.7 1482.7 236.3C1484.7 235.8 1486.7 235.4 1488.6 234.9C1490.6 234.4 1492.6 234.0 1494.5 233.5C1496.5 233.0 1498.5 232.6 1500.5 232.1C1502.4 231.7 1504.4 231.2 1506.3 230.8C1508.3 230.3 1510.3 229.9 1512.3 229.4C1514.2 228.9 1516.2 228.5 1518.2 228.0C1520.1 227.6 1522.1 227.1 1524.1 226.7C1526.0 226.2 1528.0 225.8 1530.0 225.3C1531.9 224.9 1533.9 224.5 1535.9 224.0C1537.8 223.6 1539.8 223.1 1541.8 222.7C1543.7 222.2 1545.7 221.8 1547.7 221.3C1549.6 220.9 1551.6 220.5 1553.6 220.0C1555.5 219.6 1557.5 219.1 1559.5 218.7C1561.4 218.2 1563.4 217.8 1565.3 217.4C1567.3 216.9 1569.2 216.5 1571.2 216.0C1573.2 215.6 1575.1 215.2 1577.1 214.7C1579.0 214.3 1581.0 213.8 1583.0 213.4C1584.9 213.0 1586.9 212.5 1588.8 212.1C1590.8 211.6 1592.7 211.2 1594.7 210.8C1596.7 210.3 1598.6 209.9 1600.6 209.5C1602.5 209.0 1604.5 208.6 1606.4 208.1C1608.4 207.7 1610.3 207.3 1612.3 206.8C1614.2 206.4 1616.2 206.0 1618.1 205.5C1620.0 205.1 1622.0 204.6 1623.9 204.2C1625.9 203.8 1627.8 203.3 1629.8 202.9C1631.7 202.5 1633.6 202.0 1635.6 201.6C1637.5 201.1 1640.4 200.5 1641.4 200.2"/>
<path stroke="#0000ff" d="M454.5 870.5C458.0 869.6 468.4 867.0 475.4 865.2C482.4 863.5 489.3 861.8 496.3 860.1C503.3 858.4 510.3 856.8 517.3 855.1C524.3 853.5 531.3 851.9 538.3 850.3C545.3 848.7 552.3 847.1 559.3 845.5C566.3 843.9 573.4 842.3 580.4 840.8C587.4 839.2 594.4 837.6 601.4 836.0C608.4 834.5 615.4 832.9 622.4 831.3C629.4 829.7 636.4 828.1 643.4 826.5C650.4 824.9 657.4 823.3 664.4 821.6C671.4 820.0 678.4 818.3 685.4 816.6C692.4 814.9 699.4 813.2 706.3 811.5C713.3 809.8 720.3 808.0 727.2 806.2C734.2 804.4 741.1 802.5 748.0 800.7C755.0 798.8 765.3 795.9 768.8 794.9C769.4 794.8 771.2 794.4 772.3 794.1C773.5 793.8 774.6 793.4 775.7 793.0C776.7 792.6 777.8 792.1 778.8 791.6C779.8 791.1 780.8 790.6 781.7 790.1C782.7 789.5 783.6 788.9 784.5 788.3C785.4 787.6 786.2 787.0 787.1 786.3C787.9 785.6 788.7 784.9 789.5 784.1C790.3 783.4 791.1 782.6 791.8 781.8C792.6 781.0 793.3 780.2 794.0 779.4C794.7 778.5 795.4 777.6 796.0 776.8C796.7 775.9 797.4 775.0 798.0 774.1C798.6 773.2 799.2 772.2 799.8 771.3C800.4 770.4 801.0 769.4 801.6 768.5C802.2 767.5 802.7 766.5 803.3 765.5C803.8 764.6 804.4 763.6 804.9 762.6C805.4 761.6 806.2 760.2 806.4 759.7C806.7 758.7 807.3 755.7 807.7 753.7C808.1 751.7 808.6 749.7 809.0 747.7C809.5 745.7 809.9 743.7 810.4 741.8C810.8 739.8 811.3 737.8 811.7 735.8C812.2 733.8 812.7 731.8 813.1 729.8C813.6 727.9 814.1 725.9 814.6 723.9C815.1 721.9 815.6 719.9 816.1 718.0C816.6 716.0 817.1 714.0 817.6 712.0C818.1 710.0 818.6 708.1 819.1 706.1C819.7 704.1 820.2 702.1 820.7 700.2C821.2 698.2 821.7 696.2 822.2 694.2C822.8 692.3 823.3 690.3 823.9 688.3C824.4 686.4 825.0 684.4 825.5 682.4C826.1 680.5 826.7 678.5 827.3 676.5C827.9 674.6 828.4 672.6 829.0 670.7C829.6 668.7 830.2 666.8 830.9 664.8C831.5 662.9 832.1 660.9 832.7 659.0C833.4 657.1 834.0 655.1 834.7 653.2C835.3 651.2 836.0 649.3 836.7 647.4C837.4 645.5 838.1 643.6 838.9 641.7C839.6 639.8 840.3 637.9 841.1 636.0C841.8 634.1 842.6 632.2 843.3 630.3C844.1 628.4 844.9 626.5 845.6 624.6C846.4 622.7 847.2 620.9 848.0 619.0C848.8 617.1 849.6 615.3 850.4 613.4C851.3 611.5 852.1 609.7 852.9 607.8C853.8 606.0 854.6 604.1 855.5 602.3C856.3 600.4 857.2 598.6 858.1 596.8C859.0 595.0 859.9 593.1 860.8 591.3C861.7 589.5 862.6 587.7 863.6 585.9C864.5 584.1 865.4 582.3 866.4 580.5C867.3 578.7 868.3 576.9 869.3 575.1C870.2 573.4 871.2 571.6 872.2 569.8C873.2 568.1 874.2 566.3 875.2 564.6C876.2 562.8 877.2 561.1 878.3 559.3C879.3 557.6 880.3 555.9 881.4 554.1C882.5 552.4 883.5 550.7 884.6 549.0C885.7 547.3 886.7 545.6 887.8 543.9C888.9 542.2 890.0 540.5 891.2 538.8C892.3 537.1 893.4 535.4 894.5 533.8C895.7 532.1 896.8 530.5 898.0 528.8C899.1 527.2 900.3 525.5 901.5 523.9C902.7 522.3 903.9 520.6 905.1 519.0C906.3 517.4 907.5 515.8 908.7 514.2C909.9 512.6 911.2 511.0 912.4 509.4C913.7 507.8 914.9 506.3 916.2 504.7C917.5 503.1 918.7 501.6 920.0 500.0C921.3 498.5 922.6 496.9 923.9 495.4C925.3 493.9 926.6 492.4 927.9 490.9C929.2 489.4 930.6 487.9 932.0 486.4C933.3 484.9 934.7 483.4 936.1 481.9C937.4 480.4 938.8 479.0 940.2 477.5C941.6 476.1 943.0 474.6 944.5 473.2C945.9 471.8 947.3 470.3 948.8 468.9C950.2 467.5 951.6 466.1 953.1 464.7C954.5 463.3 956.0 461.9 957.5 460.5C959.0 459.2 960.5 457.8 962.0 456.4C963.4 455.1 964.9 453.7 966.5 452.4C968.0 451.0 969.5 449.7 971.0 448.3C972.5 447.0 974.1 445.7 975.6 444.4C977.2 443.1 978.7 441.8 980.3 440.5C981.8 439.2 983.4 437.9 985.0 436.6C986.6 435.3 988.1 434.1 989.7 432.8C991.3 431.5 992.9 430.3 994.5 429.0C996.1 427.8 997.7 426.5 999.4 425.3C1001.0 424.1 1002.6 422.9 1004.2 421.6C1005.9 420.4 1007.5 419.2 1009.1 418.0C1010.8 416.8 1012.4 415.6 1014.1 414.4C1015.7 413.3 1017.4 412.1 1019.1 410.9C1020.7 409.7 1022.4 408.6 1024.1 407.4C1025.8 406.3 1027.5 405.1 1029.1 404.0C1030.8 402.9 1032.5 401.7 1034.2 400.6C1035.9 399.5 1037.6 398.3 1039.3 397.2C1041.0 396.1 1042.8 395.0 1044.5 393.9C1046.2 392.8 1047.9 391.7 1049.6 390.6C1051.4 389.6 1053.1 388.5 1054.8 387.4C1056.5 386.4 1058.3 385.3 1060.0 384.2C1061.8 383.2 1063.5 382.1 1065.2 381.1C1067.0 380.0 1068.7 379.0 1070.5 378.0C1072.3 377.0 1074.0 375.9 1075.8 374.9C1077.5 373.9 1079.3 372.9 1081.0 371.9C1082.8 370.9 1084.6 369.9 1086.3 368.9C1088.1 367.9 1089.9 366.9 1091.7 365.9C1093.5 364.9 1095.2 364.0 1097.0 363.0C1098.8 362.0 1100.6 361.1 1102.4 360.1C1104.2 359.2 1106.0 358.3 1107.8 357.3C1109.6 356.4 1111.4 355.5 1113.2 354.5C1115.0 353.6 1116.8 352.7 1118.6 351.8C1120.4 350.9 1122.2 350.0 1124.0 349.1C1125.8 348.2 1127.7 347.3 1129.5 346.4C1131.3 345.5 1133.1 344.6 1135.0 343.7C1136.8 342.9 1138.6 342.0 1140.4 341.1C1142.3 340.3 1144.1 339.4 1145.9 338.5C1147.8 337.7 1149.6 336.8 1151.5 336.0C1153.3 335.2 1155.1 334.3 1157.0 333.5C1158.8 332.6 1160.7 331.8 1162.5 331.0C1164.4 330.2 1166.2 329.4 1168.1 328.5C1169.9 327.7 1171.8 326.9 1173.6 326.1C1175.5 325.3 1177.3 324.5 1179.2 323.7C1181.1 322.9 1182.9 322.1 1184.8 321.3C1186.7 320.6 1188.5 319.8 1190.4 319.0C1192.3 318.2 1194.1 317.5 1196.0 316.7C1197.9 315.9 1199.8 315.2 1201.7 314.4C1203.5 313.7 1205.4 312.9 1207.3 312.2C1209.2 311.4 1211.1 310.7 1213.0 309.9C1214.8 309.2 1216.7 308.5 1218.6 307.8C1220.5 307.0 1222.4 306.3 1224.3 305.6C1226.2 304.9 1228.1 304.2 1230.0 303.4C1231.9 302.7 1233.8 302.0 1235.7 301.3C1237.6 300.6 1239.5 299.9 1241.4 299.2C1243.3 298.6 1245.2 297.9 1247.1 297.2C1249.0 296.5 1250.9 295.8 1252.8 295.2C1254.8 294.5 1256.7 293.8 1258.6 293.2C1260.5 292.5 1262.4 291.8 1264.3 291.2C1266.3 290.5 1268.2 289.9 1270.1 289.2C1272.0 288.6 1274.0 287.9 1275.9 287.3C1277.8 286.6 1279.7 286.0 1281.7 285.4C1283.6 284.7 1285.5 284.1 1287.5 283.5C1289.4 282.9 1291.3 282.2 1293.2 281.6C1295.2 281.0 1297.1 280.4 1299.0 279.8C1301.0 279.2 1302.9 278.6 1304.9 278.0C1306.8 277.4 1308.7 276.8 1310.7 276.2C1312.6 275.6 1314.6 275.0 1316.5 274.4C1318.5 273.8 1320.4 273.2 1322.4 272.6C1324.3 272.1 1326.3 271.5 1328.2 270.9C1330.1 270.3 1332.1 269.8 1334.0 269.2C1336.0 268.6 1337.9 268.1 1339.9 267.5C1341.9 266.9 1343.8 266.4 1345.8 265.8C1347.7 265.3 1349.7 264.7 1351.6 264.2C1353.6 263.6 1355.5 263.1 1357.5 262.5C1359.5 262.0 1361.4 261.5 1363.4 260.9C1365.3 260.4 1367.3 259.8 1369.3 259.3C1371.2 258.8 1373.2 258.3 1375.2 257.7C1377.1 257.2 1379.1 256.7 1381.0 256.1C1383.0 255.6 1385.0 255.1 1386.9 254.6C1388.9 254.1 1390.9 253.5 1392.8 253.0C1394.8 252.5 1396.8 252.0 1398.7 251.5C1400.7 251.0 1402.7 250.5 1404.6 250.0C1406.6 249.5 1408.6 249.0 1410.5 248.5C1412.5 248.0 1414.5 247.5 1416.5 247.0C1418.4 246.5 1420.4 246.0 1422.4 245.5C1424.3 245.0 1426.3 244.5 1428.3 244.0C1430.3 243.5 1432.2 243.1 1434.2 242.6C1436.2 242.1 1438.1 241.6 1440.1 241.1C1442.1 240.7 1444.1 240.2 1446.0 239.7C1448.0 239.2 1450.0 238.8 1452.0 238.3C1453.9 237.8 1455.9 237.3 1457.9 236.9C1459.8 236.4 1461.8 235.9 1463.8 235.5C1465.8 235.0 1467.7 234.6 1469.7 234.1C1471.7 233.6 1473.7 233.2 1475.6 232.7C1477.6 232.3 1479.6 231.8 1481.6 231.3C1483.5 230.9 1485.5 230.4 1487.5 230.0C1489.5 229.5 1491.4 229.1 1493.4 228.6C1495.4 228.2 1497.4 227.7 1499.3 227.3C1501.3 226.9 1503.3 226.4 1505.3 226.0C1507.2 225.5 1509.2 225.1 1511.2 224.6C1513.2 224.2 1515.1 223.8 1517.1 223.3C1519.1 222.9 1521.0 222.4 1523.0 222.0C1525.0 221.6 1527.0 221.1 1528.9 220.7C1530.9 220.3 1532.9 219.8 1534.8 219.4C1536.8 219.0 1538.8 218.5 1540.8 218.1C1542.7 217.7 1544.7 217.2 1546.7 216.8C1548.6 216.4 1550.6 216.0 1552.6 215.5C1554.5 215.1 1556.5 214.7 1558.5 214.3C1560.4 213.8 1562.4 213.4 1564.4 213.0C1566.3 212.6 1568.3 212.1 1570.3 211.7C1572.2 211.3 1574.2 210.9 1576.2 210.4C1578.1 210.0 1580.1 209.6 1582.0 209.2C1584.0 208.8 1586.0 208.3 1587.9 207.9C1589.9 207.5 1591.8 207.1 1593.8 206.7C1595.7 206.2 1597.7 205.8 1599.7 205.4C1601.6 205.0 1603.6 204.5 1605.5 204.1C1607.5 203.7 1609.4 203.3 1611.4 202.9C1613.3 202.4 1615.3 202.0 1617.2 201.6C1619.2 201.2 1621.1 200.8 1623.1 200.3C1625.0 199.9 1627.0 199.5 1628.9 199.1C1630.9 198.7 1632.8 198.2 1634.8 197.8C1636.7 197.4 1639.6 196.8 1640.6 196.5"/>
</g>
</svg></body></html>
